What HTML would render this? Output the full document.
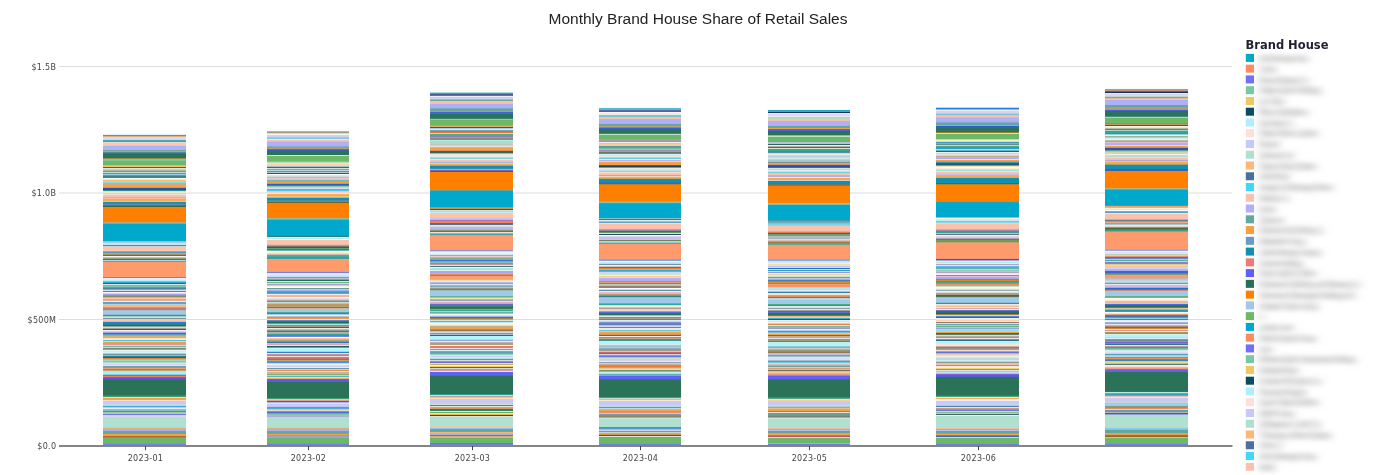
<!DOCTYPE html>
<html><head><meta charset="utf-8"><title>Monthly Brand House Share of Retail Sales</title>
<style>
html,body{margin:0;padding:0;background:#fff;}
body{width:1382px;height:475px;overflow:hidden;position:relative;}
svg{position:absolute;left:0;top:0;}
.ax{font-family:"DejaVu Sans",Verdana,sans-serif;font-size:8px;fill:#444;letter-spacing:0.3px;}
.title{font-family:"Liberation Sans",Arial,sans-serif;font-size:15.5px;fill:#222;}
.lt{font-family:"DejaVu Sans",Verdana,sans-serif;font-size:11.5px;font-weight:bold;fill:#222233;}
.lg{font-family:"DejaVu Sans",Verdana,sans-serif;font-size:10.5px;fill:#848484;}
</style></head><body>
<svg width="1382" height="475" viewBox="0 0 1382 475"><defs><filter id="bl" x="-10%" y="-10%" width="120%" height="120%"><feGaussianBlur stdDeviation="4.2 2.6"/></filter></defs>
<rect x="59" y="66.00" width="1173" height="1" fill="#dedede"/>
<rect x="59" y="192.50" width="1173" height="1" fill="#dedede"/>
<rect x="59" y="319.00" width="1173" height="1" fill="#dedede"/>
<g><rect x="103" y="134.85" width="83" height="310.75" fill="#2a9fc0"/><rect x="103" y="135.86" width="83" height="309.74" fill="#e8a050"/><rect x="103" y="136.62" width="83" height="308.98" fill="#d0d0f0"/><rect x="103" y="137.63" width="83" height="307.97" fill="#dcdcec"/><rect x="103" y="139.90" width="83" height="305.70" fill="#60a8a0"/><rect x="103" y="140.66" width="83" height="304.94" fill="#30a8d0"/><rect x="103" y="142.17" width="83" height="303.43" fill="#f0f0f0"/><rect x="103" y="142.68" width="83" height="302.92" fill="#fdc8b0"/><rect x="103" y="145.83" width="83" height="299.77" fill="#b0b0fa"/><rect x="103" y="150.00" width="83" height="295.60" fill="#60a8a0"/><rect x="103" y="150.88" width="83" height="294.72" fill="#f0a040"/><rect x="103" y="151.77" width="83" height="293.83" fill="#60b060"/><rect x="103" y="152.53" width="83" height="293.07" fill="#4060e0"/><rect x="103" y="154.04" width="83" height="291.56" fill="#2a7358"/><rect x="103" y="158.46" width="83" height="287.14" fill="#f0a040"/><rect x="103" y="159.72" width="83" height="285.88" fill="#80d0b0"/><rect x="103" y="160.73" width="83" height="284.87" fill="#6cb866"/><rect x="103" y="165.15" width="83" height="280.45" fill="#80d0b0"/><rect x="103" y="165.66" width="83" height="279.94" fill="#fcc070"/><rect x="103" y="167.05" width="83" height="278.55" fill="#1a5a6a"/><rect x="103" y="167.93" width="83" height="277.67" fill="#f0f0f0"/><rect x="103" y="168.56" width="83" height="277.04" fill="#c0d8c0"/><rect x="103" y="170.71" width="83" height="274.89" fill="#707040"/><rect x="103" y="171.72" width="83" height="273.88" fill="#e8f0f0"/><rect x="103" y="172.73" width="83" height="272.87" fill="#50b060"/><rect x="103" y="173.99" width="83" height="271.61" fill="#a0d0f0"/><rect x="103" y="174.87" width="83" height="270.73" fill="#60a0a0"/><rect x="103" y="176.52" width="83" height="269.08" fill="#1a6060"/><rect x="103" y="177.78" width="83" height="267.82" fill="#f8f8ff"/><rect x="103" y="179.04" width="83" height="266.56" fill="#f8e0f0"/><rect x="103" y="179.92" width="83" height="265.68" fill="#fcc070"/><rect x="103" y="181.82" width="83" height="263.78" fill="#80e0f0"/><rect x="103" y="183.00" width="83" height="262.60" fill="#c0b090"/><rect x="103" y="184.52" width="83" height="261.08" fill="#fca040"/><rect x="103" y="187.80" width="83" height="257.80" fill="#4050d0"/><rect x="103" y="188.68" width="83" height="256.92" fill="#1a5a6a"/><rect x="103" y="189.94" width="83" height="255.66" fill="#2a9090"/><rect x="103" y="191.21" width="83" height="254.39" fill="#f8f8f0"/><rect x="103" y="192.09" width="83" height="253.51" fill="#fcecc0"/><rect x="103" y="192.85" width="83" height="252.75" fill="#a0e8f0"/><rect x="103" y="194.11" width="83" height="251.49" fill="#fde0d0"/><rect x="103" y="194.99" width="83" height="250.61" fill="#fdc0b0"/><rect x="103" y="196.89" width="83" height="248.71" fill="#a0c0f0"/><rect x="103" y="197.90" width="83" height="247.70" fill="#fdc0b0"/><rect x="103" y="198.78" width="83" height="246.82" fill="#fca848"/><rect x="103" y="200.93" width="83" height="244.67" fill="#f0f0f0"/><rect x="103" y="201.69" width="83" height="243.91" fill="#1890b0"/><rect x="103" y="203.83" width="83" height="241.77" fill="#60a0a0"/><rect x="103" y="204.72" width="83" height="240.88" fill="#7050e0"/><rect x="103" y="205.98" width="83" height="239.62" fill="#2a7050"/><rect x="103" y="206.99" width="83" height="238.61" fill="#ff8000"/><rect x="103" y="222.14" width="83" height="223.46" fill="#b0b090"/><rect x="103" y="223.66" width="83" height="221.94" fill="#00a8cc"/><rect x="103" y="241.00" width="83" height="204.60" fill="#e8b040"/><rect x="103" y="242.01" width="83" height="203.59" fill="#a0c8f0"/><rect x="103" y="242.89" width="83" height="202.71" fill="#b0f0f0"/><rect x="103" y="244.16" width="83" height="201.44" fill="#ffffff"/><rect x="103" y="244.79" width="83" height="200.81" fill="#3090d0"/><rect x="103" y="246.05" width="83" height="199.55" fill="#d8d8d8"/><rect x="103" y="247.06" width="83" height="198.54" fill="#fdc4a8"/><rect x="103" y="250.85" width="83" height="194.75" fill="#ffffff"/><rect x="103" y="251.35" width="83" height="194.25" fill="#2090c8"/><rect x="103" y="252.62" width="83" height="192.98" fill="#a0a0a0"/><rect x="103" y="253.37" width="83" height="192.23" fill="#f0a050"/><rect x="103" y="254.64" width="83" height="190.96" fill="#2a6a70"/><rect x="103" y="255.90" width="83" height="189.70" fill="#ffffff"/><rect x="103" y="256.78" width="83" height="188.82" fill="#80e0e0"/><rect x="103" y="258.05" width="83" height="187.55" fill="#c0b090"/><rect x="103" y="258.68" width="83" height="186.92" fill="#706020"/><rect x="103" y="259.94" width="83" height="185.66" fill="#ffffff"/><rect x="103" y="260.57" width="83" height="185.03" fill="#20b0d0"/><rect x="103" y="261.83" width="83" height="183.77" fill="#fe9a6c"/><rect x="103" y="276.98" width="83" height="168.62" fill="#6070ff"/><rect x="103" y="277.87" width="83" height="167.73" fill="#e8eef8"/><rect x="103" y="280.14" width="83" height="165.46" fill="#b0f0f8"/><rect x="103" y="281.40" width="83" height="164.20" fill="#30c0e0"/><rect x="103" y="282.67" width="83" height="162.93" fill="#2060c0"/><rect x="103" y="284.18" width="83" height="161.42" fill="#ffffff"/><rect x="103" y="285.19" width="83" height="160.41" fill="#60b060"/><rect x="103" y="286.20" width="83" height="159.40" fill="#80d0b0"/><rect x="103" y="287.09" width="83" height="158.51" fill="#7080f0"/><rect x="103" y="288.35" width="83" height="157.25" fill="#408080"/><rect x="103" y="289.61" width="83" height="155.99" fill="#e8f0f8"/><rect x="103" y="290.87" width="83" height="154.73" fill="#407890"/><rect x="103" y="291.88" width="83" height="153.72" fill="#ffffff"/><rect x="103" y="292.77" width="83" height="152.83" fill="#f0c8e0"/><rect x="103" y="294.03" width="83" height="151.57" fill="#a0a0f0"/><rect x="103" y="295.29" width="83" height="150.31" fill="#d08030"/><rect x="103" y="296.56" width="83" height="149.04" fill="#30a0a0"/><rect x="103" y="297.57" width="83" height="148.03" fill="#ffffff"/><rect x="103" y="298.45" width="83" height="147.15" fill="#fe9a6c"/><rect x="103" y="300.77" width="83" height="144.83" fill="#b0f0f8"/><rect x="103" y="301.53" width="83" height="144.07" fill="#ffffff"/><rect x="103" y="302.16" width="83" height="143.44" fill="#4090d0"/><rect x="103" y="303.80" width="83" height="141.80" fill="#e0e8f0"/><rect x="103" y="304.68" width="83" height="140.92" fill="#70a0a0"/><rect x="103" y="305.57" width="83" height="140.03" fill="#ffffff"/><rect x="103" y="306.32" width="83" height="139.28" fill="#f8a040"/><rect x="103" y="307.59" width="83" height="138.01" fill="#c08080"/><rect x="103" y="308.85" width="83" height="136.75" fill="#f07030"/><rect x="103" y="310.11" width="83" height="135.49" fill="#a0c8e8"/><rect x="103" y="314.78" width="83" height="130.82" fill="#30a080"/><rect x="103" y="316.42" width="83" height="129.18" fill="#f0f0f0"/><rect x="103" y="317.31" width="83" height="128.29" fill="#fdc8a8"/><rect x="103" y="318.19" width="83" height="127.41" fill="#6080a0"/><rect x="103" y="319.20" width="83" height="126.40" fill="#fde0c8"/><rect x="103" y="320.46" width="83" height="125.14" fill="#fcb080"/><rect x="103" y="321.98" width="83" height="123.62" fill="#2080e0"/><rect x="103" y="323.62" width="83" height="121.98" fill="#2a8090"/><rect x="103" y="324.88" width="83" height="120.72" fill="#2a7050"/><rect x="103" y="326.53" width="83" height="119.07" fill="#f0f0f0"/><rect x="103" y="327.41" width="83" height="118.19" fill="#e0c0a0"/><rect x="103" y="328.67" width="83" height="116.93" fill="#1a5a70"/><rect x="103" y="329.93" width="83" height="115.67" fill="#ffffff"/><rect x="103" y="330.57" width="83" height="115.03" fill="#fdd0d0"/><rect x="103" y="331.83" width="83" height="113.77" fill="#a0a0f8"/><rect x="103" y="333.09" width="83" height="112.51" fill="#4060e0"/><rect x="103" y="334.35" width="83" height="111.25" fill="#60c0a0"/><rect x="103" y="335.62" width="83" height="109.98" fill="#c0b090"/><rect x="103" y="336.50" width="83" height="109.10" fill="#e8b050"/><rect x="103" y="338.14" width="83" height="107.46" fill="#fde0c8"/><rect x="103" y="339.15" width="83" height="106.45" fill="#f0f0f0"/><rect x="103" y="340.04" width="83" height="105.56" fill="#40c0e0"/><rect x="103" y="341.30" width="83" height="104.30" fill="#f0f0f0"/><rect x="103" y="341.93" width="83" height="103.67" fill="#f8a040"/><rect x="103" y="343.82" width="83" height="101.78" fill="#c08080"/><rect x="103" y="344.71" width="83" height="100.89" fill="#f0f0f0"/><rect x="103" y="345.72" width="83" height="99.88" fill="#60a0a0"/><rect x="103" y="346.73" width="83" height="98.87" fill="#fde0c8"/><rect x="103" y="347.61" width="83" height="97.99" fill="#c0b090"/><rect x="103" y="348.62" width="83" height="96.98" fill="#205050"/><rect x="103" y="349.51" width="83" height="96.09" fill="#f0ffff"/><rect x="103" y="350.77" width="83" height="94.83" fill="#c0f0f8"/><rect x="103" y="352.66" width="83" height="92.94" fill="#ffffff"/><rect x="103" y="353.55" width="83" height="92.05" fill="#6090a0"/><rect x="103" y="354.81" width="83" height="90.79" fill="#c0b090"/><rect x="103" y="356.07" width="83" height="89.53" fill="#1080a0"/><rect x="103" y="357.00" width="83" height="88.60" fill="#2a7050"/><rect x="103" y="358.01" width="83" height="87.59" fill="#f08030"/><rect x="103" y="359.53" width="83" height="86.07" fill="#b0e0d0"/><rect x="103" y="360.54" width="83" height="85.06" fill="#80d0b0"/><rect x="103" y="362.68" width="83" height="82.92" fill="#f0f0f0"/><rect x="103" y="363.57" width="83" height="82.03" fill="#d0d0f8"/><rect x="103" y="365.59" width="83" height="80.01" fill="#ffffff"/><rect x="103" y="366.09" width="83" height="79.51" fill="#6a98a8"/><rect x="103" y="367.73" width="83" height="77.87" fill="#f0a070"/><rect x="103" y="368.99" width="83" height="76.61" fill="#6090c0"/><rect x="103" y="370.26" width="83" height="75.34" fill="#e8b050"/><rect x="103" y="371.14" width="83" height="74.46" fill="#c0e8d8"/><rect x="103" y="372.15" width="83" height="73.45" fill="#a8f0f8"/><rect x="103" y="374.68" width="83" height="70.92" fill="#3090d0"/><rect x="103" y="375.94" width="83" height="69.66" fill="#f08050"/><rect x="103" y="377.20" width="83" height="68.40" fill="#6050f0"/><rect x="103" y="379.73" width="83" height="65.87" fill="#2a7358"/><rect x="103" y="395.51" width="83" height="50.09" fill="#40a070"/><rect x="103" y="397.15" width="83" height="48.45" fill="#f0f0f0"/><rect x="103" y="398.04" width="83" height="47.56" fill="#f8a040"/><rect x="103" y="399.93" width="83" height="45.67" fill="#fde0c8"/><rect x="103" y="400.94" width="83" height="44.66" fill="#c8c8fa"/><rect x="103" y="404.35" width="83" height="41.25" fill="#c0e8d8"/><rect x="103" y="405.00" width="83" height="40.60" fill="#b0e0d0"/><rect x="103" y="405.95" width="83" height="39.65" fill="#40a0e0"/><rect x="103" y="406.89" width="83" height="38.71" fill="#a0d8f8"/><rect x="103" y="408.31" width="83" height="37.29" fill="#ffffff"/><rect x="103" y="408.98" width="83" height="36.62" fill="#f8a040"/><rect x="103" y="409.92" width="83" height="35.68" fill="#f0f0f0"/><rect x="103" y="410.49" width="83" height="35.11" fill="#208898"/><rect x="103" y="411.82" width="83" height="33.78" fill="#c0e8d8"/><rect x="103" y="412.58" width="83" height="33.02" fill="#60b060"/><rect x="103" y="413.52" width="83" height="32.08" fill="#f0f0f0"/><rect x="103" y="414.00" width="83" height="31.60" fill="#7070f0"/><rect x="103" y="414.94" width="83" height="30.66" fill="#fcd090"/><rect x="103" y="416.17" width="83" height="29.43" fill="#d8d8f8"/><rect x="103" y="417.31" width="83" height="28.29" fill="#b0e0d0"/><rect x="103" y="427.92" width="83" height="17.68" fill="#f8a040"/><rect x="103" y="428.67" width="83" height="16.93" fill="#a0d8f8"/><rect x="103" y="429.43" width="83" height="16.17" fill="#40c8f0"/><rect x="103" y="430.09" width="83" height="15.51" fill="#b0b0f0"/><rect x="103" y="431.04" width="83" height="14.56" fill="#60a8a0"/><rect x="103" y="433.88" width="83" height="11.72" fill="#f8a040"/><rect x="103" y="436.25" width="83" height="9.35" fill="#a05030"/><rect x="103" y="437.01" width="83" height="8.59" fill="#60a0b0"/><rect x="103" y="437.95" width="83" height="7.65" fill="#6cb866"/><rect x="103" y="443.83" width="83" height="1.77" fill="#7080f0"/><rect x="103" y="444.96" width="83" height="0.64" fill="#306a60"/></g>
<g><rect x="267" y="131.06" width="82" height="314.54" fill="#60d0f0"/><rect x="267" y="131.94" width="82" height="313.66" fill="#a0a080"/><rect x="267" y="133.21" width="82" height="312.39" fill="#f8e0e8"/><rect x="267" y="134.09" width="82" height="311.51" fill="#f4f4f8"/><rect x="267" y="135.10" width="82" height="310.50" fill="#d0d0f0"/><rect x="267" y="136.99" width="82" height="308.61" fill="#b0f0f8"/><rect x="267" y="137.63" width="82" height="307.97" fill="#30b0d8"/><rect x="267" y="138.64" width="82" height="306.96" fill="#ffffff"/><rect x="267" y="139.52" width="82" height="306.08" fill="#fdc0a8"/><rect x="267" y="141.67" width="82" height="303.93" fill="#b0b0fa"/><rect x="267" y="146.46" width="82" height="299.14" fill="#60a8a0"/><rect x="267" y="147.73" width="82" height="297.87" fill="#f0a040"/><rect x="267" y="148.74" width="82" height="296.86" fill="#4080e0"/><rect x="267" y="149.62" width="82" height="295.98" fill="#3060d0"/><rect x="267" y="150.88" width="82" height="294.72" fill="#2a7358"/><rect x="267" y="155.05" width="82" height="290.55" fill="#e0f0f0"/><rect x="267" y="155.93" width="82" height="289.67" fill="#6cb866"/><rect x="267" y="160.98" width="82" height="284.62" fill="#f0a040"/><rect x="267" y="161.87" width="82" height="283.73" fill="#80d0b0"/><rect x="267" y="162.63" width="82" height="282.97" fill="#fcf0d8"/><rect x="267" y="163.51" width="82" height="282.09" fill="#fdd0a8"/><rect x="267" y="166.04" width="82" height="279.56" fill="#f0f0f0"/><rect x="267" y="166.67" width="82" height="278.93" fill="#2a6070"/><rect x="267" y="167.93" width="82" height="277.67" fill="#f0f0f0"/><rect x="267" y="168.81" width="82" height="276.79" fill="#40b070"/><rect x="267" y="169.82" width="82" height="275.78" fill="#e8f0f0"/><rect x="267" y="170.71" width="82" height="274.89" fill="#4090f0"/><rect x="267" y="171.97" width="82" height="273.63" fill="#f0f0f0"/><rect x="267" y="172.73" width="82" height="272.87" fill="#206060"/><rect x="267" y="173.99" width="82" height="271.61" fill="#ffffff"/><rect x="267" y="174.87" width="82" height="270.73" fill="#d0e8f8"/><rect x="267" y="176.77" width="82" height="268.83" fill="#c0b090"/><rect x="267" y="177.78" width="82" height="267.82" fill="#fde0c8"/><rect x="267" y="178.66" width="82" height="266.94" fill="#c0a0c0"/><rect x="267" y="179.55" width="82" height="266.05" fill="#f0f0f0"/><rect x="267" y="180.30" width="82" height="265.30" fill="#40a0a0"/><rect x="267" y="181.19" width="82" height="264.41" fill="#f8a040"/><rect x="267" y="183.00" width="82" height="262.60" fill="#b0a060"/><rect x="267" y="184.01" width="82" height="261.59" fill="#2060d0"/><rect x="267" y="185.78" width="82" height="259.82" fill="#b0e0d0"/><rect x="267" y="186.54" width="82" height="259.06" fill="#60b060"/><rect x="267" y="187.42" width="82" height="258.18" fill="#ffffff"/><rect x="267" y="188.30" width="82" height="257.30" fill="#c8c8f8"/><rect x="267" y="189.31" width="82" height="256.29" fill="#7080f0"/><rect x="267" y="190.07" width="82" height="255.53" fill="#40c8e0"/><rect x="267" y="190.83" width="82" height="254.77" fill="#a0d0f8"/><rect x="267" y="191.59" width="82" height="254.01" fill="#fdd0d0"/><rect x="267" y="193.10" width="82" height="252.50" fill="#f0f0f0"/><rect x="267" y="194.11" width="82" height="251.49" fill="#f8a848"/><rect x="267" y="196.64" width="82" height="248.96" fill="#f0f0f0"/><rect x="267" y="197.52" width="82" height="248.08" fill="#1090b0"/><rect x="267" y="200.68" width="82" height="244.92" fill="#d08080"/><rect x="267" y="201.69" width="82" height="243.91" fill="#606030"/><rect x="267" y="202.95" width="82" height="242.65" fill="#ff8000"/><rect x="267" y="218.10" width="82" height="227.50" fill="#90c0a0"/><rect x="267" y="219.62" width="82" height="225.98" fill="#00a8cc"/><rect x="267" y="235.78" width="82" height="209.82" fill="#308080"/><rect x="267" y="237.04" width="82" height="208.56" fill="#f0f0f0"/><rect x="267" y="237.92" width="82" height="207.68" fill="#b0f0f0"/><rect x="267" y="239.19" width="82" height="206.41" fill="#ffffff"/><rect x="267" y="240.07" width="82" height="205.53" fill="#fdc0a8"/><rect x="267" y="241.00" width="82" height="204.60" fill="#fdc4a8"/><rect x="267" y="244.79" width="82" height="200.81" fill="#90b0f0"/><rect x="267" y="245.80" width="82" height="199.80" fill="#a07070"/><rect x="267" y="246.81" width="82" height="198.79" fill="#2a6050"/><rect x="267" y="247.94" width="82" height="197.66" fill="#60b060"/><rect x="267" y="248.83" width="82" height="196.77" fill="#208080"/><rect x="267" y="249.84" width="82" height="195.76" fill="#40b0c0"/><rect x="267" y="250.85" width="82" height="194.75" fill="#fcf8f0"/><rect x="267" y="252.11" width="82" height="193.49" fill="#fcf0c0"/><rect x="267" y="253.12" width="82" height="192.48" fill="#f0d0e0"/><rect x="267" y="254.64" width="82" height="190.96" fill="#a09060"/><rect x="267" y="255.52" width="82" height="190.08" fill="#40b0a0"/><rect x="267" y="256.78" width="82" height="188.82" fill="#30a0a0"/><rect x="267" y="258.93" width="82" height="186.67" fill="#fe9a6c"/><rect x="267" y="271.93" width="82" height="173.67" fill="#6070f0"/><rect x="267" y="272.82" width="82" height="172.78" fill="#b0e0d0"/><rect x="267" y="273.58" width="82" height="172.02" fill="#ffffff"/><rect x="267" y="274.46" width="82" height="171.14" fill="#e0d8fc"/><rect x="267" y="276.35" width="82" height="169.25" fill="#b0f0f8"/><rect x="267" y="277.36" width="82" height="168.24" fill="#4070c0"/><rect x="267" y="278.25" width="82" height="167.35" fill="#f0d8c8"/><rect x="267" y="279.51" width="82" height="166.09" fill="#1a7070"/><rect x="267" y="281.15" width="82" height="164.45" fill="#ffffff"/><rect x="267" y="282.04" width="82" height="163.56" fill="#60b060"/><rect x="267" y="282.92" width="82" height="162.68" fill="#f8d0d8"/><rect x="267" y="283.93" width="82" height="161.67" fill="#a0a0f0"/><rect x="267" y="284.94" width="82" height="160.66" fill="#e8c860"/><rect x="267" y="285.82" width="82" height="159.78" fill="#fcf0c0"/><rect x="267" y="286.71" width="82" height="158.89" fill="#ffffff"/><rect x="267" y="287.97" width="82" height="157.63" fill="#60a0a0"/><rect x="267" y="288.98" width="82" height="156.62" fill="#d0c0f0"/><rect x="267" y="290.24" width="82" height="155.36" fill="#a0a0f0"/><rect x="267" y="291.51" width="82" height="154.09" fill="#4a80b0"/><rect x="267" y="292.52" width="82" height="153.08" fill="#30b8e0"/><rect x="267" y="294.03" width="82" height="151.57" fill="#f0f0f0"/><rect x="267" y="295.29" width="82" height="150.31" fill="#f8a070"/><rect x="267" y="296.81" width="82" height="148.79" fill="#ffffff"/><rect x="267" y="297.82" width="82" height="147.78" fill="#e0e0f8"/><rect x="267" y="299.00" width="82" height="146.60" fill="#e0d0a0"/><rect x="267" y="300.01" width="82" height="145.59" fill="#c0b090"/><rect x="267" y="300.89" width="82" height="144.71" fill="#4080c0"/><rect x="267" y="301.78" width="82" height="143.82" fill="#c0e0e8"/><rect x="267" y="303.42" width="82" height="142.18" fill="#f0a050"/><rect x="267" y="304.68" width="82" height="140.92" fill="#6090a0"/><rect x="267" y="305.57" width="82" height="140.03" fill="#e0b070"/><rect x="267" y="306.83" width="82" height="138.77" fill="#206060"/><rect x="267" y="307.59" width="82" height="138.01" fill="#f8a040"/><rect x="267" y="308.47" width="82" height="137.13" fill="#a0c8e8"/><rect x="267" y="312.26" width="82" height="133.34" fill="#30a080"/><rect x="267" y="313.14" width="82" height="132.46" fill="#2080f0"/><rect x="267" y="314.40" width="82" height="131.20" fill="#ffffff"/><rect x="267" y="315.41" width="82" height="130.19" fill="#fde0e0"/><rect x="267" y="316.42" width="82" height="129.18" fill="#a0a0a0"/><rect x="267" y="318.19" width="82" height="127.41" fill="#f8a040"/><rect x="267" y="319.20" width="82" height="126.40" fill="#f0f0f0"/><rect x="267" y="320.21" width="82" height="125.39" fill="#3070d0"/><rect x="267" y="321.73" width="82" height="123.87" fill="#2a7050"/><rect x="267" y="323.62" width="82" height="121.98" fill="#b0f0f8"/><rect x="267" y="324.88" width="82" height="120.72" fill="#30a0d0"/><rect x="267" y="325.77" width="82" height="119.83" fill="#c0b090"/><rect x="267" y="326.78" width="82" height="118.82" fill="#506040"/><rect x="267" y="328.04" width="82" height="117.56" fill="#f0f0f0"/><rect x="267" y="329.05" width="82" height="116.55" fill="#f0b070"/><rect x="267" y="330.31" width="82" height="115.29" fill="#6090a0"/><rect x="267" y="331.20" width="82" height="114.40" fill="#806050"/><rect x="267" y="332.46" width="82" height="113.14" fill="#f0f0f0"/><rect x="267" y="333.34" width="82" height="112.26" fill="#40b090"/><rect x="267" y="334.35" width="82" height="111.25" fill="#20a0b0"/><rect x="267" y="335.87" width="82" height="109.73" fill="#6070f0"/><rect x="267" y="336.88" width="82" height="108.72" fill="#ffffff"/><rect x="267" y="338.14" width="82" height="107.46" fill="#fcc080"/><rect x="267" y="339.66" width="82" height="105.94" fill="#80a8a0"/><rect x="267" y="340.67" width="82" height="104.93" fill="#f0a030"/><rect x="267" y="341.68" width="82" height="103.92" fill="#3050c0"/><rect x="267" y="342.56" width="82" height="103.04" fill="#40a0a0"/><rect x="267" y="343.44" width="82" height="102.16" fill="#f0f0f0"/><rect x="267" y="344.20" width="82" height="101.40" fill="#e090a0"/><rect x="267" y="345.09" width="82" height="100.51" fill="#f0f0f0"/><rect x="267" y="345.97" width="82" height="99.63" fill="#1a6060"/><rect x="267" y="347.61" width="82" height="97.99" fill="#ffffff"/><rect x="267" y="348.24" width="82" height="97.36" fill="#b0f4fc"/><rect x="267" y="351.78" width="82" height="93.82" fill="#3080d0"/><rect x="267" y="353.04" width="82" height="92.56" fill="#f0f0f0"/><rect x="267" y="353.92" width="82" height="91.68" fill="#d09090"/><rect x="267" y="355.19" width="82" height="90.41" fill="#40b0b0"/><rect x="267" y="356.07" width="82" height="89.53" fill="#ffffff"/><rect x="267" y="356.83" width="82" height="88.77" fill="#d07070"/><rect x="267" y="357.00" width="82" height="88.60" fill="#d07878"/><rect x="267" y="358.89" width="82" height="86.71" fill="#807020"/><rect x="267" y="359.78" width="82" height="85.82" fill="#f0a040"/><rect x="267" y="360.79" width="82" height="84.81" fill="#40a0e0"/><rect x="267" y="361.80" width="82" height="83.80" fill="#4090f0"/><rect x="267" y="363.06" width="82" height="82.54" fill="#c0e8d8"/><rect x="267" y="363.94" width="82" height="81.66" fill="#f4f4f4"/><rect x="267" y="365.21" width="82" height="80.39" fill="#d0d0f8"/><rect x="267" y="367.10" width="82" height="78.50" fill="#f0f0f0"/><rect x="267" y="368.11" width="82" height="77.49" fill="#5090a0"/><rect x="267" y="368.99" width="82" height="76.61" fill="#f0f0f0"/><rect x="267" y="369.63" width="82" height="75.97" fill="#f08040"/><rect x="267" y="370.89" width="82" height="74.71" fill="#fde0e0"/><rect x="267" y="371.90" width="82" height="73.70" fill="#c0b090"/><rect x="267" y="372.78" width="82" height="72.82" fill="#c0e8d8"/><rect x="267" y="373.67" width="82" height="71.93" fill="#708040"/><rect x="267" y="374.68" width="82" height="70.92" fill="#f0f0f0"/><rect x="267" y="375.69" width="82" height="69.91" fill="#30a0a0"/><rect x="267" y="376.57" width="82" height="69.03" fill="#80e0d0"/><rect x="267" y="377.45" width="82" height="68.15" fill="#f0f0f0"/><rect x="267" y="378.21" width="82" height="67.39" fill="#f0a040"/><rect x="267" y="379.10" width="82" height="66.50" fill="#5858f8"/><rect x="267" y="382.00" width="82" height="63.60" fill="#2a7358"/><rect x="267" y="398.04" width="82" height="47.56" fill="#40a070"/><rect x="267" y="399.30" width="82" height="46.30" fill="#f0f0f0"/><rect x="267" y="400.18" width="82" height="45.42" fill="#f09070"/><rect x="267" y="400.94" width="82" height="44.66" fill="#4060d0"/><rect x="267" y="402.45" width="82" height="43.15" fill="#ffffff"/><rect x="267" y="403.46" width="82" height="42.14" fill="#c8c8fa"/><rect x="267" y="406.89" width="82" height="38.71" fill="#40a8c8"/><rect x="267" y="408.79" width="82" height="36.81" fill="#a0c8f8"/><rect x="267" y="409.92" width="82" height="35.68" fill="#f0f0f0"/><rect x="267" y="410.68" width="82" height="34.92" fill="#f8a040"/><rect x="267" y="411.63" width="82" height="33.97" fill="#4060e0"/><rect x="267" y="412.58" width="82" height="33.02" fill="#5080f0"/><rect x="267" y="413.71" width="82" height="31.89" fill="#b0e0d0"/><rect x="267" y="414.47" width="82" height="31.13" fill="#60b060"/><rect x="267" y="415.61" width="82" height="29.99" fill="#f0f0f0"/><rect x="267" y="416.36" width="82" height="29.24" fill="#9080e0"/><rect x="267" y="417.12" width="82" height="28.48" fill="#fcd0a0"/><rect x="267" y="417.78" width="82" height="27.82" fill="#b0e0d0"/><rect x="267" y="427.92" width="82" height="17.68" fill="#f8a040"/><rect x="267" y="428.67" width="82" height="16.93" fill="#a0d0f8"/><rect x="267" y="429.43" width="82" height="16.17" fill="#40c8f0"/><rect x="267" y="430.09" width="82" height="15.51" fill="#b0b0f0"/><rect x="267" y="431.04" width="82" height="14.56" fill="#60a8a0"/><rect x="267" y="433.88" width="82" height="11.72" fill="#f8a040"/><rect x="267" y="435.49" width="82" height="10.11" fill="#8080f0"/><rect x="267" y="436.72" width="82" height="8.88" fill="#d0e8d0"/><rect x="267" y="437.20" width="82" height="8.40" fill="#6cb866"/><rect x="267" y="443.83" width="82" height="1.77" fill="#7080f0"/><rect x="267" y="444.96" width="82" height="0.64" fill="#306a60"/></g>
<g><rect x="430" y="92.58" width="83" height="353.02" fill="#40b0b0"/><rect x="430" y="93.59" width="83" height="352.01" fill="#8070d0"/><rect x="430" y="94.47" width="83" height="351.13" fill="#1a4a60"/><rect x="430" y="95.73" width="83" height="349.87" fill="#ffffff"/><rect x="430" y="96.62" width="83" height="348.98" fill="#c8d0f8"/><rect x="430" y="98.89" width="83" height="346.71" fill="#e0c060"/><rect x="430" y="99.90" width="83" height="345.70" fill="#40a0a0"/><rect x="430" y="100.78" width="83" height="344.82" fill="#fdc0a0"/><rect x="430" y="103.94" width="83" height="341.66" fill="#b0b0fa"/><rect x="430" y="108.36" width="83" height="337.24" fill="#60a8a0"/><rect x="430" y="110.88" width="83" height="334.72" fill="#f0a040"/><rect x="430" y="111.77" width="83" height="333.83" fill="#4060e0"/><rect x="430" y="112.78" width="83" height="332.82" fill="#4070e8"/><rect x="430" y="113.79" width="83" height="331.81" fill="#2a7358"/><rect x="430" y="118.84" width="83" height="326.76" fill="#a0d0f0"/><rect x="430" y="119.72" width="83" height="325.88" fill="#6cb866"/><rect x="430" y="125.66" width="83" height="319.94" fill="#f8b060"/><rect x="430" y="126.92" width="83" height="318.68" fill="#1a5a6a"/><rect x="430" y="127.93" width="83" height="317.67" fill="#a0d0f0"/><rect x="430" y="129.19" width="83" height="316.41" fill="#f0f0f0"/><rect x="430" y="130.20" width="83" height="315.40" fill="#6090a0"/><rect x="430" y="131.46" width="83" height="314.14" fill="#f07030"/><rect x="430" y="132.98" width="83" height="312.62" fill="#c0e8d8"/><rect x="430" y="133.99" width="83" height="311.61" fill="#40b080"/><rect x="430" y="136.14" width="83" height="309.46" fill="#a070d0"/><rect x="430" y="137.40" width="83" height="308.20" fill="#c0b070"/><rect x="430" y="138.66" width="83" height="306.94" fill="#1a5a6a"/><rect x="430" y="139.55" width="83" height="306.05" fill="#b0f0f8"/><rect x="430" y="140.81" width="83" height="304.79" fill="#a0e0d0"/><rect x="430" y="142.83" width="83" height="302.77" fill="#f8c090"/><rect x="430" y="144.52" width="83" height="301.08" fill="#90d8e8"/><rect x="430" y="145.78" width="83" height="299.82" fill="#f0f0f0"/><rect x="430" y="146.79" width="83" height="298.81" fill="#c0b0f0"/><rect x="430" y="147.80" width="83" height="297.80" fill="#f8a040"/><rect x="430" y="150.83" width="83" height="294.77" fill="#4050d0"/><rect x="430" y="151.84" width="83" height="293.76" fill="#1a5a6a"/><rect x="430" y="152.85" width="83" height="292.75" fill="#f8a040"/><rect x="430" y="154.11" width="83" height="291.49" fill="#f0f0f0"/><rect x="430" y="154.99" width="83" height="290.61" fill="#e0f0e8"/><rect x="430" y="156.64" width="83" height="288.96" fill="#f0f0f0"/><rect x="430" y="157.52" width="83" height="288.08" fill="#60d0e0"/><rect x="430" y="158.78" width="83" height="286.82" fill="#fde0c8"/><rect x="430" y="160.05" width="83" height="285.55" fill="#fdc0a8"/><rect x="430" y="161.94" width="83" height="283.66" fill="#a0b0f0"/><rect x="430" y="162.95" width="83" height="282.65" fill="#fcd0a0"/><rect x="430" y="163.83" width="83" height="281.77" fill="#f8a850"/><rect x="430" y="165.73" width="83" height="279.87" fill="#1090b0"/><rect x="430" y="168.88" width="83" height="276.72" fill="#d0b0c0"/><rect x="430" y="169.77" width="83" height="275.83" fill="#a060d0"/><rect x="430" y="170.78" width="83" height="274.82" fill="#1a5a6a"/><rect x="430" y="171.79" width="83" height="273.81" fill="#ff8000"/><rect x="430" y="189.97" width="83" height="255.63" fill="#60a8a0"/><rect x="430" y="190.98" width="83" height="254.62" fill="#00a8cc"/><rect x="430" y="207.57" width="83" height="238.03" fill="#fcc060"/><rect x="430" y="208.32" width="83" height="237.28" fill="#f0a040"/><rect x="430" y="208.83" width="83" height="236.77" fill="#203040"/><rect x="430" y="209.84" width="83" height="235.76" fill="#f0f0f0"/><rect x="430" y="210.47" width="83" height="235.13" fill="#a0e0e8"/><rect x="430" y="212.62" width="83" height="232.98" fill="#ffffff"/><rect x="430" y="212.99" width="83" height="232.61" fill="#fdc4a8"/><rect x="430" y="218.05" width="83" height="227.55" fill="#c0c0f0"/><rect x="430" y="219.31" width="83" height="226.29" fill="#fcb090"/><rect x="430" y="220.19" width="83" height="225.41" fill="#a060c0"/><rect x="430" y="221.45" width="83" height="224.15" fill="#f0a0a0"/><rect x="430" y="222.21" width="83" height="223.39" fill="#f08030"/><rect x="430" y="223.47" width="83" height="222.13" fill="#204080"/><rect x="430" y="224.74" width="83" height="220.86" fill="#f0f0f0"/><rect x="430" y="225.62" width="83" height="219.98" fill="#d0e0d0"/><rect x="430" y="227.26" width="83" height="218.34" fill="#b8b0fa"/><rect x="430" y="229.79" width="83" height="215.81" fill="#d0a060"/><rect x="430" y="230.67" width="83" height="214.93" fill="#208080"/><rect x="430" y="231.93" width="83" height="213.67" fill="#f0f0f0"/><rect x="430" y="232.82" width="83" height="212.78" fill="#f0a040"/><rect x="430" y="234.08" width="83" height="211.52" fill="#30a0b0"/><rect x="430" y="235.09" width="83" height="210.51" fill="#fe9a6c"/><rect x="430" y="250.24" width="83" height="195.36" fill="#7090f0"/><rect x="430" y="251.25" width="83" height="194.35" fill="#f0f0f0"/><rect x="430" y="252.14" width="83" height="193.46" fill="#e0f8f8"/><rect x="430" y="253.78" width="83" height="191.82" fill="#ffffff"/><rect x="430" y="254.66" width="83" height="190.94" fill="#80b0c8"/><rect x="430" y="255.92" width="83" height="189.68" fill="#f0f0f0"/><rect x="430" y="256.56" width="83" height="189.04" fill="#e0a0c0"/><rect x="430" y="257.57" width="83" height="188.03" fill="#c0b090"/><rect x="430" y="258.45" width="83" height="187.15" fill="#60b060"/><rect x="430" y="259.00" width="83" height="186.60" fill="#b0a060"/><rect x="430" y="260.01" width="83" height="185.59" fill="#4070f0"/><rect x="430" y="261.53" width="83" height="184.07" fill="#b0e0d0"/><rect x="430" y="262.54" width="83" height="183.06" fill="#40b090"/><rect x="430" y="263.80" width="83" height="181.80" fill="#d090a0"/><rect x="430" y="265.06" width="83" height="180.54" fill="#f0f0f0"/><rect x="430" y="265.94" width="83" height="179.66" fill="#206060"/><rect x="430" y="266.83" width="83" height="178.77" fill="#ffffff"/><rect x="430" y="267.84" width="83" height="177.76" fill="#a0e8e0"/><rect x="430" y="270.11" width="83" height="175.49" fill="#f0f0f0"/><rect x="430" y="270.99" width="83" height="174.61" fill="#a8a8fa"/><rect x="430" y="273.52" width="83" height="172.08" fill="#f0a0a0"/><rect x="430" y="274.40" width="83" height="171.20" fill="#f08030"/><rect x="430" y="275.16" width="83" height="170.44" fill="#40a080"/><rect x="430" y="276.05" width="83" height="169.55" fill="#fca070"/><rect x="430" y="279.83" width="83" height="165.77" fill="#fcd0a0"/><rect x="430" y="280.72" width="83" height="164.88" fill="#f0f0f0"/><rect x="430" y="281.73" width="83" height="163.87" fill="#d8d0f8"/><rect x="430" y="282.74" width="83" height="162.86" fill="#3090c0"/><rect x="430" y="283.62" width="83" height="161.98" fill="#f0f0f0"/><rect x="430" y="284.51" width="83" height="161.09" fill="#d8d8d8"/><rect x="430" y="285.52" width="83" height="160.08" fill="#6090b0"/><rect x="430" y="286.53" width="83" height="159.07" fill="#a0d0f0"/><rect x="430" y="287.79" width="83" height="157.81" fill="#d0a060"/><rect x="430" y="288.67" width="83" height="156.93" fill="#2090b0"/><rect x="430" y="289.56" width="83" height="156.04" fill="#a09060"/><rect x="430" y="290.31" width="83" height="155.29" fill="#a0c8e8"/><rect x="430" y="296.25" width="83" height="149.35" fill="#40b080"/><rect x="430" y="297.51" width="83" height="148.09" fill="#f0f0f0"/><rect x="430" y="298.14" width="83" height="147.46" fill="#fcd890"/><rect x="430" y="299.66" width="83" height="145.94" fill="#6080a0"/><rect x="430" y="300.67" width="83" height="144.93" fill="#f0f0f0"/><rect x="430" y="301.68" width="83" height="143.92" fill="#e0b0c0"/><rect x="430" y="303.44" width="83" height="142.16" fill="#f0a040"/><rect x="430" y="304.20" width="83" height="141.40" fill="#4060f0"/><rect x="430" y="305.46" width="83" height="140.14" fill="#40a090"/><rect x="430" y="306.35" width="83" height="139.25" fill="#2a7358"/><rect x="430" y="308.87" width="83" height="136.73" fill="#d09030"/><rect x="430" y="310.14" width="83" height="135.46" fill="#20b0a0"/><rect x="430" y="311.40" width="83" height="134.20" fill="#f0f0f0"/><rect x="430" y="312.28" width="83" height="133.32" fill="#30a090"/><rect x="430" y="313.55" width="83" height="132.05" fill="#ffffff"/><rect x="430" y="314.56" width="83" height="131.04" fill="#fde0c8"/><rect x="430" y="315.82" width="83" height="129.78" fill="#a0d0f0"/><rect x="430" y="316.83" width="83" height="128.77" fill="#4070d0"/><rect x="430" y="317.00" width="83" height="128.60" fill="#2080a0"/><rect x="430" y="318.26" width="83" height="127.34" fill="#e08020"/><rect x="430" y="319.78" width="83" height="125.82" fill="#f0f0f0"/><rect x="430" y="320.79" width="83" height="124.81" fill="#80a8b0"/><rect x="430" y="322.05" width="83" height="123.55" fill="#b0f0f8"/><rect x="430" y="323.31" width="83" height="122.29" fill="#ffffff"/><rect x="430" y="324.32" width="83" height="121.28" fill="#fde0c8"/><rect x="430" y="325.84" width="83" height="119.76" fill="#c0b090"/><rect x="430" y="327.10" width="83" height="118.50" fill="#f8a040"/><rect x="430" y="329.63" width="83" height="115.97" fill="#606030"/><rect x="430" y="330.64" width="83" height="114.96" fill="#e0b090"/><rect x="430" y="331.90" width="83" height="113.70" fill="#f0f0f0"/><rect x="430" y="332.78" width="83" height="112.82" fill="#9080e0"/><rect x="430" y="334.05" width="83" height="111.55" fill="#f0f0f0"/><rect x="430" y="334.68" width="83" height="110.92" fill="#206070"/><rect x="430" y="335.94" width="83" height="109.66" fill="#b0f4fc"/><rect x="430" y="339.73" width="83" height="105.87" fill="#90a0e0"/><rect x="430" y="340.99" width="83" height="104.61" fill="#f0f0f0"/><rect x="430" y="342.00" width="83" height="103.60" fill="#c0b0a0"/><rect x="430" y="343.52" width="83" height="102.08" fill="#909060"/><rect x="430" y="344.78" width="83" height="100.82" fill="#f0f0f0"/><rect x="430" y="346.04" width="83" height="99.56" fill="#f07060"/><rect x="430" y="347.93" width="83" height="97.67" fill="#f0f0f0"/><rect x="430" y="348.82" width="83" height="96.78" fill="#50b0e0"/><rect x="430" y="350.08" width="83" height="95.52" fill="#f0f0f0"/><rect x="430" y="351.09" width="83" height="94.51" fill="#a080e0"/><rect x="430" y="352.35" width="83" height="93.25" fill="#40b0a0"/><rect x="430" y="353.62" width="83" height="91.98" fill="#80d0b0"/><rect x="430" y="354.88" width="83" height="90.72" fill="#f0f0f0"/><rect x="430" y="355.51" width="83" height="90.09" fill="#d0d0fa"/><rect x="430" y="357.66" width="83" height="87.94" fill="#ffffff"/><rect x="430" y="358.67" width="83" height="86.93" fill="#30a0c0"/><rect x="430" y="359.93" width="83" height="85.67" fill="#c0e8d8"/><rect x="430" y="360.94" width="83" height="84.66" fill="#f08040"/><rect x="430" y="362.20" width="83" height="83.40" fill="#6060f0"/><rect x="430" y="363.09" width="83" height="82.51" fill="#f0f0f0"/><rect x="430" y="363.97" width="83" height="81.63" fill="#c0b070"/><rect x="430" y="364.98" width="83" height="80.62" fill="#f0f0f0"/><rect x="430" y="365.99" width="83" height="79.61" fill="#f0d060"/><rect x="430" y="367.25" width="83" height="78.35" fill="#1a4a5a"/><rect x="430" y="368.14" width="83" height="77.46" fill="#f0f0f0"/><rect x="430" y="369.02" width="83" height="76.58" fill="#a0a0c0"/><rect x="430" y="370.03" width="83" height="75.57" fill="#d0a0a0"/><rect x="430" y="371.04" width="83" height="74.56" fill="#f0f0f0"/><rect x="430" y="371.92" width="83" height="73.68" fill="#6060f8"/><rect x="430" y="375.00" width="83" height="70.60" fill="#4a70a0"/><rect x="430" y="376.01" width="83" height="69.59" fill="#2a7358"/><rect x="430" y="393.94" width="83" height="51.66" fill="#20a090"/><rect x="430" y="395.20" width="83" height="50.40" fill="#f0f0f0"/><rect x="430" y="396.21" width="83" height="49.39" fill="#c08090"/><rect x="430" y="397.10" width="83" height="48.50" fill="#fcc0a0"/><rect x="430" y="397.98" width="83" height="47.62" fill="#fce0a0"/><rect x="430" y="398.99" width="83" height="46.61" fill="#c8c8fa"/><rect x="430" y="403.79" width="83" height="41.81" fill="#c0e8d8"/><rect x="430" y="405.05" width="83" height="40.55" fill="#4a70a0"/><rect x="430" y="405.93" width="83" height="39.67" fill="#f0f0f0"/><rect x="430" y="406.82" width="83" height="38.78" fill="#d0a070"/><rect x="430" y="407.83" width="83" height="37.77" fill="#f8a040"/><rect x="430" y="408.84" width="83" height="36.76" fill="#208080"/><rect x="430" y="410.98" width="83" height="34.62" fill="#f0f0f0"/><rect x="430" y="411.87" width="83" height="33.73" fill="#60b060"/><rect x="430" y="413.13" width="83" height="32.47" fill="#f0f0f0"/><rect x="430" y="413.89" width="83" height="31.71" fill="#f8b050"/><rect x="430" y="415.15" width="83" height="30.45" fill="#203060"/><rect x="430" y="416.04" width="83" height="29.56" fill="#f0f0f0"/><rect x="430" y="416.67" width="83" height="28.93" fill="#b0e0d0"/><rect x="430" y="426.15" width="83" height="19.45" fill="#f0c8a0"/><rect x="430" y="426.87" width="83" height="18.73" fill="#c0e8d8"/><rect x="430" y="427.60" width="83" height="18.00" fill="#90c0f8"/><rect x="430" y="429.04" width="83" height="16.56" fill="#60a8a0"/><rect x="430" y="431.94" width="83" height="13.66" fill="#fcd0a0"/><rect x="430" y="432.45" width="83" height="13.15" fill="#f8a040"/><rect x="430" y="433.89" width="83" height="11.71" fill="#f0f0f0"/><rect x="430" y="434.47" width="83" height="11.13" fill="#6080e0"/><rect x="430" y="435.20" width="83" height="10.40" fill="#9050b0"/><rect x="430" y="435.92" width="83" height="9.68" fill="#f0a070"/><rect x="430" y="436.79" width="83" height="8.81" fill="#a0d8b0"/><rect x="430" y="437.73" width="83" height="7.87" fill="#6cb866"/><rect x="430" y="443.01" width="83" height="2.59" fill="#10a0e0"/><rect x="430" y="443.88" width="83" height="1.72" fill="#7080f0"/><rect x="430" y="444.96" width="83" height="0.64" fill="#306a60"/></g>
<g><rect x="599" y="107.95" width="82" height="337.65" fill="#40c0e0"/><rect x="599" y="108.84" width="82" height="336.76" fill="#b0a090"/><rect x="599" y="109.85" width="82" height="335.75" fill="#8080d0"/><rect x="599" y="110.73" width="82" height="334.87" fill="#203050"/><rect x="599" y="111.74" width="82" height="333.86" fill="#ffffff"/><rect x="599" y="112.63" width="82" height="332.97" fill="#f0e0f8"/><rect x="599" y="113.89" width="82" height="331.71" fill="#f0f0f0"/><rect x="599" y="114.90" width="82" height="330.70" fill="#d0b070"/><rect x="599" y="115.78" width="82" height="329.82" fill="#70c8d0"/><rect x="599" y="117.05" width="82" height="328.55" fill="#fdc0a0"/><rect x="599" y="118.94" width="82" height="326.66" fill="#b0b0fa"/><rect x="599" y="123.99" width="82" height="321.61" fill="#60a8a0"/><rect x="599" y="125.88" width="82" height="319.72" fill="#c0a070"/><rect x="599" y="127.15" width="82" height="318.45" fill="#40a0a0"/><rect x="599" y="128.03" width="82" height="317.57" fill="#3060e0"/><rect x="599" y="129.29" width="82" height="316.31" fill="#2a7358"/><rect x="599" y="133.84" width="82" height="311.76" fill="#e0f0f0"/><rect x="599" y="134.72" width="82" height="310.88" fill="#6cb866"/><rect x="599" y="139.77" width="82" height="305.83" fill="#c0b0e0"/><rect x="599" y="140.66" width="82" height="304.94" fill="#807050"/><rect x="599" y="141.67" width="82" height="303.93" fill="#f0f0f0"/><rect x="599" y="142.93" width="82" height="302.67" fill="#fcc090"/><rect x="599" y="144.82" width="82" height="300.78" fill="#f0f0f0"/><rect x="599" y="145.71" width="82" height="299.89" fill="#6090a0"/><rect x="599" y="146.46" width="82" height="299.14" fill="#60a8a0"/><rect x="599" y="147.35" width="82" height="298.25" fill="#40b070"/><rect x="599" y="148.61" width="82" height="296.99" fill="#b0e0d0"/><rect x="599" y="149.49" width="82" height="296.11" fill="#c090a0"/><rect x="599" y="150.51" width="82" height="295.09" fill="#8080e0"/><rect x="599" y="151.52" width="82" height="294.08" fill="#d0b060"/><rect x="599" y="152.40" width="82" height="293.20" fill="#1a5a6a"/><rect x="599" y="153.66" width="82" height="291.94" fill="#f0f0f0"/><rect x="599" y="154.55" width="82" height="291.05" fill="#b0f0f8"/><rect x="599" y="155.81" width="82" height="289.79" fill="#f0f0f0"/><rect x="599" y="156.82" width="82" height="288.78" fill="#fcc090"/><rect x="599" y="158.00" width="82" height="287.60" fill="#60d0e0"/><rect x="599" y="159.01" width="82" height="286.59" fill="#f0f0f0"/><rect x="599" y="159.89" width="82" height="285.71" fill="#c0b0f0"/><rect x="599" y="161.16" width="82" height="284.44" fill="#fcd0b0"/><rect x="599" y="162.04" width="82" height="283.56" fill="#f8a040"/><rect x="599" y="164.94" width="82" height="280.66" fill="#4060d0"/><rect x="599" y="165.83" width="82" height="279.77" fill="#203050"/><rect x="599" y="166.84" width="82" height="278.76" fill="#30a0a0"/><rect x="599" y="167.85" width="82" height="277.75" fill="#f0f0f0"/><rect x="599" y="168.73" width="82" height="276.87" fill="#d0e0b0"/><rect x="599" y="169.62" width="82" height="275.98" fill="#f0f0f0"/><rect x="599" y="170.63" width="82" height="274.97" fill="#60d8e8"/><rect x="599" y="171.89" width="82" height="273.71" fill="#ffffff"/><rect x="599" y="172.52" width="82" height="273.08" fill="#fdc0a8"/><rect x="599" y="175.05" width="82" height="270.55" fill="#a0a0f0"/><rect x="599" y="175.93" width="82" height="269.67" fill="#f0f0f0"/><rect x="599" y="176.69" width="82" height="268.91" fill="#f8a848"/><rect x="599" y="178.83" width="82" height="266.77" fill="#1090b0"/><rect x="599" y="182.62" width="82" height="262.98" fill="#5050d0"/><rect x="599" y="183.88" width="82" height="261.72" fill="#808040"/><rect x="599" y="184.52" width="82" height="261.08" fill="#ff8000"/><rect x="599" y="201.56" width="82" height="244.04" fill="#90c0a0"/><rect x="599" y="203.20" width="82" height="242.40" fill="#00a8cc"/><rect x="599" y="218.27" width="82" height="227.33" fill="#f0f0f0"/><rect x="599" y="218.78" width="82" height="226.82" fill="#205060"/><rect x="599" y="219.79" width="82" height="225.81" fill="#f0f0f0"/><rect x="599" y="220.80" width="82" height="224.80" fill="#a0e0f0"/><rect x="599" y="221.68" width="82" height="223.92" fill="#50a0c0"/><rect x="599" y="222.94" width="82" height="222.66" fill="#f0f0f0"/><rect x="599" y="223.58" width="82" height="222.02" fill="#fdc0a8"/><rect x="599" y="229.26" width="82" height="216.34" fill="#9090f0"/><rect x="599" y="230.52" width="82" height="215.08" fill="#a07070"/><rect x="599" y="231.40" width="82" height="214.20" fill="#2a6050"/><rect x="599" y="232.16" width="82" height="213.44" fill="#60b060"/><rect x="599" y="233.05" width="82" height="212.55" fill="#f0f0f0"/><rect x="599" y="233.93" width="82" height="211.67" fill="#204060"/><rect x="599" y="234.94" width="82" height="210.66" fill="#ffffff"/><rect x="599" y="235.95" width="82" height="209.65" fill="#d8d8e0"/><rect x="599" y="237.21" width="82" height="208.39" fill="#c8b8f8"/><rect x="599" y="238.98" width="82" height="206.62" fill="#f0f0f0"/><rect x="599" y="239.74" width="82" height="205.86" fill="#407050"/><rect x="599" y="240.62" width="82" height="204.98" fill="#d0a060"/><rect x="599" y="241.51" width="82" height="204.09" fill="#f0f0f0"/><rect x="599" y="242.52" width="82" height="203.08" fill="#20b0b0"/><rect x="599" y="243.78" width="82" height="201.82" fill="#fe9a6c"/><rect x="599" y="259.56" width="82" height="186.04" fill="#6090f0"/><rect x="599" y="260.82" width="82" height="184.78" fill="#ffffff"/><rect x="599" y="261.71" width="82" height="183.89" fill="#b0f0f8"/><rect x="599" y="262.72" width="82" height="182.88" fill="#f0f0f0"/><rect x="599" y="263.73" width="82" height="181.87" fill="#8090a0"/><rect x="599" y="264.99" width="82" height="180.61" fill="#f0f0f0"/><rect x="599" y="265.87" width="82" height="179.73" fill="#fde0c8"/><rect x="599" y="266.76" width="82" height="178.84" fill="#208090"/><rect x="599" y="267.77" width="82" height="177.83" fill="#f07050"/><rect x="599" y="268.78" width="82" height="176.82" fill="#e0b040"/><rect x="599" y="270.04" width="82" height="175.56" fill="#20b0d0"/><rect x="599" y="271.81" width="82" height="173.79" fill="#ffffff"/><rect x="599" y="272.57" width="82" height="173.03" fill="#a0a0f0"/><rect x="599" y="273.45" width="82" height="172.15" fill="#ffffff"/><rect x="599" y="274.00" width="82" height="171.60" fill="#c8e8d0"/><rect x="599" y="275.26" width="82" height="170.34" fill="#ffffff"/><rect x="599" y="275.89" width="82" height="169.71" fill="#f8c890"/><rect x="599" y="277.16" width="82" height="168.44" fill="#e0e0f8"/><rect x="599" y="278.04" width="82" height="167.56" fill="#b0b0fa"/><rect x="599" y="280.94" width="82" height="164.66" fill="#f08030"/><rect x="599" y="282.21" width="82" height="163.39" fill="#f8a080"/><rect x="599" y="283.09" width="82" height="162.51" fill="#30a080"/><rect x="599" y="284.35" width="82" height="161.25" fill="#f0f0f0"/><rect x="599" y="285.11" width="82" height="160.49" fill="#f8a070"/><rect x="599" y="286.63" width="82" height="158.97" fill="#1a4a6a"/><rect x="599" y="287.64" width="82" height="157.96" fill="#ffffff"/><rect x="599" y="288.90" width="82" height="156.70" fill="#fcf0c0"/><rect x="599" y="289.78" width="82" height="155.82" fill="#6090b0"/><rect x="599" y="291.05" width="82" height="154.55" fill="#f0f0f0"/><rect x="599" y="291.93" width="82" height="153.67" fill="#f0c0d0"/><rect x="599" y="292.94" width="82" height="152.66" fill="#a0d0f0"/><rect x="599" y="293.95" width="82" height="151.65" fill="#c0a070"/><rect x="599" y="295.21" width="82" height="150.39" fill="#6090b0"/><rect x="599" y="296.10" width="82" height="149.50" fill="#208090"/><rect x="599" y="296.98" width="82" height="148.62" fill="#f8a040"/><rect x="599" y="297.99" width="82" height="147.61" fill="#a0c8e8"/><rect x="599" y="303.29" width="82" height="142.31" fill="#60b060"/><rect x="599" y="304.05" width="82" height="141.55" fill="#20b0a0"/><rect x="599" y="305.31" width="82" height="140.29" fill="#ffffff"/><rect x="599" y="306.20" width="82" height="139.40" fill="#fde8d0"/><rect x="599" y="307.46" width="82" height="138.14" fill="#b0a0a0"/><rect x="599" y="309.35" width="82" height="136.25" fill="#f0f0f0"/><rect x="599" y="310.62" width="82" height="134.98" fill="#f8b080"/><rect x="599" y="311.63" width="82" height="133.97" fill="#5070e0"/><rect x="599" y="313.14" width="82" height="132.46" fill="#2a7358"/><rect x="599" y="315.04" width="82" height="130.56" fill="#f8a040"/><rect x="599" y="315.92" width="82" height="129.68" fill="#f0f0f0"/><rect x="599" y="316.93" width="82" height="128.67" fill="#30a0f0"/><rect x="599" y="317.94" width="82" height="127.66" fill="#c0b090"/><rect x="599" y="318.82" width="82" height="126.78" fill="#2a6050"/><rect x="599" y="319.71" width="82" height="125.89" fill="#f0f0f0"/><rect x="599" y="320.72" width="82" height="124.88" fill="#a0e8f8"/><rect x="599" y="321.98" width="82" height="123.62" fill="#8090e0"/><rect x="599" y="323.49" width="82" height="122.11" fill="#4070e0"/><rect x="599" y="324.76" width="82" height="120.84" fill="#f8a040"/><rect x="599" y="325.77" width="82" height="119.83" fill="#f0f0f0"/><rect x="599" y="326.78" width="82" height="118.82" fill="#5090c0"/><rect x="599" y="328.04" width="82" height="117.56" fill="#f0f0f0"/><rect x="599" y="328.92" width="82" height="116.68" fill="#fde0c8"/><rect x="599" y="330.19" width="82" height="115.41" fill="#40c8e0"/><rect x="599" y="331.45" width="82" height="114.15" fill="#f0f0f0"/><rect x="599" y="332.00" width="82" height="113.60" fill="#f8a040"/><rect x="599" y="334.78" width="82" height="110.82" fill="#3070c0"/><rect x="599" y="336.04" width="82" height="109.56" fill="#f0f0f0"/><rect x="599" y="337.05" width="82" height="108.55" fill="#9080d0"/><rect x="599" y="338.06" width="82" height="107.54" fill="#d0a070"/><rect x="599" y="338.94" width="82" height="106.66" fill="#40a0a0"/><rect x="599" y="339.83" width="82" height="105.77" fill="#308080"/><rect x="599" y="340.84" width="82" height="104.76" fill="#b0f4fc"/><rect x="599" y="344.63" width="82" height="100.97" fill="#fde0e0"/><rect x="599" y="345.64" width="82" height="99.96" fill="#6090a0"/><rect x="599" y="346.52" width="82" height="99.08" fill="#f0f0f0"/><rect x="599" y="347.40" width="82" height="98.20" fill="#a0a8e8"/><rect x="599" y="348.67" width="82" height="96.93" fill="#90a080"/><rect x="599" y="350.94" width="82" height="94.66" fill="#f0f0f0"/><rect x="599" y="351.57" width="82" height="94.03" fill="#f07070"/><rect x="599" y="352.83" width="82" height="92.77" fill="#205050"/><rect x="599" y="353.72" width="82" height="91.88" fill="#f0f0f0"/><rect x="599" y="354.73" width="82" height="90.87" fill="#a080e0"/><rect x="599" y="355.99" width="82" height="89.61" fill="#6080e0"/><rect x="599" y="357.00" width="82" height="88.60" fill="#80d0b0"/><rect x="599" y="357.88" width="82" height="87.72" fill="#d0e8d0"/><rect x="599" y="358.77" width="82" height="86.83" fill="#f0d070"/><rect x="599" y="359.78" width="82" height="85.82" fill="#d8d0f8"/><rect x="599" y="361.04" width="82" height="84.56" fill="#e8e8fc"/><rect x="599" y="362.30" width="82" height="83.30" fill="#6090a0"/><rect x="599" y="363.31" width="82" height="82.29" fill="#f0f0f0"/><rect x="599" y="364.20" width="82" height="81.40" fill="#c0a080"/><rect x="599" y="365.46" width="82" height="80.14" fill="#f07830"/><rect x="599" y="367.35" width="82" height="78.25" fill="#d0b070"/><rect x="599" y="368.62" width="82" height="76.98" fill="#f0f0f0"/><rect x="599" y="369.63" width="82" height="75.97" fill="#e0c050"/><rect x="599" y="370.51" width="82" height="75.09" fill="#1a5a6a"/><rect x="599" y="371.39" width="82" height="74.21" fill="#f0f0f0"/><rect x="599" y="372.40" width="82" height="73.20" fill="#a0e8f0"/><rect x="599" y="374.30" width="82" height="71.30" fill="#40a0a0"/><rect x="599" y="375.18" width="82" height="70.42" fill="#f09070"/><rect x="599" y="375.94" width="82" height="69.66" fill="#6060f8"/><rect x="599" y="379.35" width="82" height="66.25" fill="#2a7358"/><rect x="599" y="396.94" width="82" height="48.66" fill="#30a080"/><rect x="599" y="398.21" width="82" height="47.39" fill="#f0f0f0"/><rect x="599" y="399.09" width="82" height="46.51" fill="#f8b060"/><rect x="599" y="400.10" width="82" height="45.50" fill="#fcf0d0"/><rect x="599" y="401.11" width="82" height="44.49" fill="#c8c8fa"/><rect x="599" y="405.78" width="82" height="39.82" fill="#f0f0f0"/><rect x="599" y="406.67" width="82" height="38.93" fill="#40a8c8"/><rect x="599" y="408.31" width="82" height="37.29" fill="#f0f0f0"/><rect x="599" y="409.19" width="82" height="36.41" fill="#f8a040"/><rect x="599" y="410.83" width="82" height="34.77" fill="#d0a070"/><rect x="599" y="411.72" width="82" height="33.88" fill="#f07050"/><rect x="599" y="412.73" width="82" height="32.87" fill="#c0e8d8"/><rect x="599" y="413.74" width="82" height="31.86" fill="#80a890"/><rect x="599" y="414.62" width="82" height="30.98" fill="#8080e0"/><rect x="599" y="415.88" width="82" height="29.72" fill="#a09050"/><rect x="599" y="416.77" width="82" height="28.83" fill="#4a70a0"/><rect x="599" y="417.53" width="82" height="28.07" fill="#f0f0f0"/><rect x="599" y="418.41" width="82" height="27.19" fill="#b0e0d0"/><rect x="599" y="427.25" width="82" height="18.35" fill="#4070a0"/><rect x="599" y="428.51" width="82" height="17.09" fill="#60c8f8"/><rect x="599" y="429.77" width="82" height="15.83" fill="#d0d0f0"/><rect x="599" y="431.04" width="82" height="14.56" fill="#60a0a0"/><rect x="599" y="432.30" width="82" height="13.30" fill="#f0f0f0"/><rect x="599" y="432.93" width="82" height="12.67" fill="#f8a040"/><rect x="599" y="434.82" width="82" height="10.78" fill="#107080"/><rect x="599" y="436.09" width="82" height="9.51" fill="#f0f0f0"/><rect x="599" y="436.97" width="82" height="8.63" fill="#6cb866"/><rect x="599" y="444.04" width="82" height="1.56" fill="#7080f0"/><rect x="599" y="444.92" width="82" height="0.68" fill="#306a60"/></g>
<g><rect x="768" y="109.95" width="82" height="335.65" fill="#20a8c0"/><rect x="768" y="111.09" width="82" height="334.51" fill="#f08080"/><rect x="768" y="111.85" width="82" height="333.75" fill="#203060"/><rect x="768" y="113.11" width="82" height="332.49" fill="#ffffff"/><rect x="768" y="113.99" width="82" height="331.61" fill="#d8d8f8"/><rect x="768" y="115.89" width="82" height="329.71" fill="#f0f0f0"/><rect x="768" y="116.90" width="82" height="328.70" fill="#c0d0a0"/><rect x="768" y="118.16" width="82" height="327.44" fill="#b0e0d0"/><rect x="768" y="119.05" width="82" height="326.55" fill="#fdc0a0"/><rect x="768" y="120.94" width="82" height="324.66" fill="#b0b0fa"/><rect x="768" y="125.99" width="82" height="319.61" fill="#60a8a0"/><rect x="768" y="127.88" width="82" height="317.72" fill="#f0a040"/><rect x="768" y="129.15" width="82" height="316.45" fill="#4060e0"/><rect x="768" y="131.04" width="82" height="314.56" fill="#2a7358"/><rect x="768" y="135.46" width="82" height="310.14" fill="#e0f0f0"/><rect x="768" y="136.72" width="82" height="308.88" fill="#6cb866"/><rect x="768" y="142.15" width="82" height="303.45" fill="#c0c0f0"/><rect x="768" y="143.04" width="82" height="302.56" fill="#fcc090"/><rect x="768" y="143.92" width="82" height="301.68" fill="#1a5a6a"/><rect x="768" y="144.93" width="82" height="300.67" fill="#f0f0f0"/><rect x="768" y="145.94" width="82" height="299.66" fill="#c0b090"/><rect x="768" y="147.20" width="82" height="298.40" fill="#2a6050"/><rect x="768" y="148.09" width="82" height="297.51" fill="#f0f0f0"/><rect x="768" y="148.97" width="82" height="296.63" fill="#40a0b0"/><rect x="768" y="149.98" width="82" height="295.62" fill="#30b080"/><rect x="768" y="151.24" width="82" height="294.36" fill="#3080f0"/><rect x="768" y="152.25" width="82" height="293.35" fill="#6090a0"/><rect x="768" y="153.14" width="82" height="292.46" fill="#f0e8b0"/><rect x="768" y="154.40" width="82" height="291.20" fill="#f0f0f0"/><rect x="768" y="155.28" width="82" height="290.32" fill="#b0d0f0"/><rect x="768" y="157.56" width="82" height="288.04" fill="#d0f0e8"/><rect x="768" y="158.82" width="82" height="286.78" fill="#fcc090"/><rect x="768" y="159.83" width="82" height="285.77" fill="#e0c8f0"/><rect x="768" y="160.00" width="82" height="285.60" fill="#a0c8d8"/><rect x="768" y="161.89" width="82" height="283.71" fill="#6090a0"/><rect x="768" y="162.78" width="82" height="282.82" fill="#f8a040"/><rect x="768" y="164.80" width="82" height="280.80" fill="#4060d0"/><rect x="768" y="165.68" width="82" height="279.92" fill="#2050c0"/><rect x="768" y="166.94" width="82" height="278.66" fill="#1a5a6a"/><rect x="768" y="167.83" width="82" height="277.77" fill="#f0f0f0"/><rect x="768" y="168.59" width="82" height="277.01" fill="#c0d8a0"/><rect x="768" y="169.85" width="82" height="275.75" fill="#f0f0f0"/><rect x="768" y="170.73" width="82" height="274.87" fill="#b0f0f0"/><rect x="768" y="171.99" width="82" height="273.61" fill="#60d0e0"/><rect x="768" y="172.88" width="82" height="272.72" fill="#fdc0a8"/><rect x="768" y="175.15" width="82" height="270.45" fill="#b0b0f0"/><rect x="768" y="177.05" width="82" height="268.55" fill="#f0f0f0"/><rect x="768" y="177.93" width="82" height="267.67" fill="#f8a848"/><rect x="768" y="180.20" width="82" height="265.40" fill="#f0f0f0"/><rect x="768" y="180.83" width="82" height="264.77" fill="#1090b0"/><rect x="768" y="183.99" width="82" height="261.61" fill="#707070"/><rect x="768" y="185.25" width="82" height="260.35" fill="#808040"/><rect x="768" y="185.88" width="82" height="259.72" fill="#ff8000"/><rect x="768" y="202.93" width="82" height="242.67" fill="#a0c0a0"/><rect x="768" y="204.82" width="82" height="240.78" fill="#00a8cc"/><rect x="768" y="220.53" width="82" height="225.07" fill="#909080"/><rect x="768" y="221.54" width="82" height="224.06" fill="#70a8b8"/><rect x="768" y="222.80" width="82" height="222.80" fill="#80c0f0"/><rect x="768" y="224.06" width="82" height="221.54" fill="#70d8f0"/><rect x="768" y="225.58" width="82" height="220.02" fill="#fdc0a8"/><rect x="768" y="230.63" width="82" height="214.97" fill="#e0c0d0"/><rect x="768" y="231.64" width="82" height="213.96" fill="#f08050"/><rect x="768" y="232.90" width="82" height="212.70" fill="#2a6050"/><rect x="768" y="233.78" width="82" height="211.82" fill="#60b060"/><rect x="768" y="234.67" width="82" height="210.93" fill="#6090a0"/><rect x="768" y="235.68" width="82" height="209.92" fill="#a0a0a0"/><rect x="768" y="236.69" width="82" height="208.91" fill="#ffffff"/><rect x="768" y="237.57" width="82" height="208.03" fill="#406080"/><rect x="768" y="238.45" width="82" height="207.15" fill="#ffffff"/><rect x="768" y="239.21" width="82" height="206.39" fill="#f0c0d0"/><rect x="768" y="240.73" width="82" height="204.87" fill="#c0b090"/><rect x="768" y="241.74" width="82" height="203.86" fill="#a08030"/><rect x="768" y="243.00" width="82" height="202.60" fill="#60b060"/><rect x="768" y="243.88" width="82" height="201.72" fill="#20b0b0"/><rect x="768" y="244.77" width="82" height="200.83" fill="#fe9a6c"/><rect x="768" y="259.67" width="82" height="185.93" fill="#6090f0"/><rect x="768" y="260.68" width="82" height="184.92" fill="#b0f0f8"/><rect x="768" y="261.56" width="82" height="184.04" fill="#e0e8f8"/><rect x="768" y="263.20" width="82" height="182.40" fill="#f0f0f0"/><rect x="768" y="264.09" width="82" height="181.51" fill="#f0e0a0"/><rect x="768" y="264.97" width="82" height="180.63" fill="#f0f0f0"/><rect x="768" y="265.73" width="82" height="179.87" fill="#c0c0f0"/><rect x="768" y="266.99" width="82" height="178.61" fill="#f0f0f0"/><rect x="768" y="267.87" width="82" height="177.73" fill="#2070d0"/><rect x="768" y="269.14" width="82" height="176.46" fill="#f0f0f0"/><rect x="768" y="270.02" width="82" height="175.58" fill="#30a0b0"/><rect x="768" y="271.03" width="82" height="174.57" fill="#c0e8d8"/><rect x="768" y="272.04" width="82" height="173.56" fill="#8090f0"/><rect x="768" y="272.92" width="82" height="172.68" fill="#f0f0f0"/><rect x="768" y="273.81" width="82" height="171.79" fill="#f0d890"/><rect x="768" y="275.45" width="82" height="170.15" fill="#f0f0f0"/><rect x="768" y="276.00" width="82" height="169.60" fill="#c0e8d8"/><rect x="768" y="277.01" width="82" height="168.59" fill="#6090a0"/><rect x="768" y="277.89" width="82" height="167.71" fill="#e0c0e0"/><rect x="768" y="278.78" width="82" height="166.82" fill="#a0c8f0"/><rect x="768" y="279.79" width="82" height="165.81" fill="#4080d0"/><rect x="768" y="280.80" width="82" height="164.80" fill="#30a0a0"/><rect x="768" y="281.68" width="82" height="163.92" fill="#e89020"/><rect x="768" y="282.94" width="82" height="162.66" fill="#40a070"/><rect x="768" y="283.83" width="82" height="161.77" fill="#f0a080"/><rect x="768" y="284.84" width="82" height="160.76" fill="#f89060"/><rect x="768" y="287.36" width="82" height="158.24" fill="#b0f0f8"/><rect x="768" y="288.37" width="82" height="157.23" fill="#a8e8f0"/><rect x="768" y="290.14" width="82" height="155.46" fill="#f0f0f0"/><rect x="768" y="290.90" width="82" height="154.70" fill="#fcd0a0"/><rect x="768" y="291.78" width="82" height="153.82" fill="#3080c0"/><rect x="768" y="293.05" width="82" height="152.55" fill="#f0f0f0"/><rect x="768" y="293.93" width="82" height="151.67" fill="#fde0c8"/><rect x="768" y="294.94" width="82" height="150.66" fill="#f8a040"/><rect x="768" y="296.83" width="82" height="148.77" fill="#2060d0"/><rect x="768" y="297.72" width="82" height="147.88" fill="#a0d0f0"/><rect x="768" y="298.73" width="82" height="146.87" fill="#fcd0a0"/><rect x="768" y="299.74" width="82" height="145.86" fill="#a0c8e8"/><rect x="768" y="304.03" width="82" height="141.57" fill="#40b080"/><rect x="768" y="305.04" width="82" height="140.56" fill="#10a0a0"/><rect x="768" y="306.05" width="82" height="139.55" fill="#f0f0f0"/><rect x="768" y="306.93" width="82" height="138.67" fill="#fcf0d8"/><rect x="768" y="307.82" width="82" height="137.78" fill="#7090a0"/><rect x="768" y="308.83" width="82" height="136.77" fill="#f0f0f0"/><rect x="768" y="309.84" width="82" height="135.76" fill="#c0b090"/><rect x="768" y="310.72" width="82" height="134.88" fill="#4a70a0"/><rect x="768" y="311.98" width="82" height="133.62" fill="#6070e0"/><rect x="768" y="312.87" width="82" height="132.73" fill="#2a7358"/><rect x="768" y="315.77" width="82" height="129.83" fill="#f0a040"/><rect x="768" y="316.66" width="82" height="128.94" fill="#f0f0f0"/><rect x="768" y="317.67" width="82" height="127.93" fill="#30b8e0"/><rect x="768" y="318.93" width="82" height="126.67" fill="#205050"/><rect x="768" y="319.94" width="82" height="125.66" fill="#f0f0f0"/><rect x="768" y="320.82" width="82" height="124.78" fill="#e0e0f8"/><rect x="768" y="322.09" width="82" height="123.51" fill="#f0f0f0"/><rect x="768" y="322.97" width="82" height="122.63" fill="#f0c0d0"/><rect x="768" y="323.98" width="82" height="121.62" fill="#f08040"/><rect x="768" y="324.99" width="82" height="120.61" fill="#f0f0f0"/><rect x="768" y="325.87" width="82" height="119.73" fill="#70c0a0"/><rect x="768" y="327.14" width="82" height="118.46" fill="#f0a040"/><rect x="768" y="328.02" width="82" height="117.58" fill="#a070d0"/><rect x="768" y="328.78" width="82" height="116.82" fill="#f0f0f0"/><rect x="768" y="329.66" width="82" height="115.94" fill="#e0f0f0"/><rect x="768" y="330.55" width="82" height="115.05" fill="#40c8e0"/><rect x="768" y="331.30" width="82" height="114.30" fill="#3090c8"/><rect x="768" y="332.57" width="82" height="113.03" fill="#f0f0f0"/><rect x="768" y="333.45" width="82" height="112.15" fill="#f8a040"/><rect x="768" y="335.01" width="82" height="110.59" fill="#806020"/><rect x="768" y="335.89" width="82" height="109.71" fill="#c0b090"/><rect x="768" y="337.16" width="82" height="108.44" fill="#e0a090"/><rect x="768" y="338.04" width="82" height="107.56" fill="#e0e0f8"/><rect x="768" y="339.05" width="82" height="106.55" fill="#a080c0"/><rect x="768" y="340.06" width="82" height="105.54" fill="#b0a060"/><rect x="768" y="340.94" width="82" height="104.66" fill="#208090"/><rect x="768" y="341.83" width="82" height="103.77" fill="#b0f4fc"/><rect x="768" y="346.63" width="82" height="98.97" fill="#6080a0"/><rect x="768" y="347.64" width="82" height="97.96" fill="#f0f0f0"/><rect x="768" y="348.52" width="82" height="97.08" fill="#c0b0a0"/><rect x="768" y="349.78" width="82" height="95.82" fill="#90a080"/><rect x="768" y="351.68" width="82" height="93.92" fill="#707060"/><rect x="768" y="352.69" width="82" height="92.91" fill="#e09020"/><rect x="768" y="353.57" width="82" height="92.03" fill="#f0f0f0"/><rect x="768" y="354.45" width="82" height="91.15" fill="#b080e0"/><rect x="768" y="355.46" width="82" height="90.14" fill="#60b0a0"/><rect x="768" y="356.47" width="82" height="89.13" fill="#b0e0d0"/><rect x="768" y="357.36" width="82" height="88.24" fill="#f0f0f0"/><rect x="768" y="358.24" width="82" height="87.36" fill="#d8d0fa"/><rect x="768" y="359.25" width="82" height="86.35" fill="#e8e0fc"/><rect x="768" y="360.52" width="82" height="85.08" fill="#6090a0"/><rect x="768" y="361.53" width="82" height="84.07" fill="#40c0e0"/><rect x="768" y="362.79" width="82" height="82.81" fill="#f0f0f0"/><rect x="768" y="363.67" width="82" height="81.93" fill="#d0a070"/><rect x="768" y="364.56" width="82" height="81.04" fill="#f0f0f0"/><rect x="768" y="365.57" width="82" height="80.03" fill="#107080"/><rect x="768" y="366.58" width="82" height="79.02" fill="#f0f0f0"/><rect x="768" y="367.46" width="82" height="78.14" fill="#c0b090"/><rect x="768" y="368.34" width="82" height="77.26" fill="#f09070"/><rect x="768" y="369.35" width="82" height="76.25" fill="#f0d060"/><rect x="768" y="370.36" width="82" height="75.24" fill="#1a4a5a"/><rect x="768" y="371.25" width="82" height="74.35" fill="#f0f0f0"/><rect x="768" y="372.13" width="82" height="73.47" fill="#fcc090"/><rect x="768" y="373.39" width="82" height="72.21" fill="#f0a080"/><rect x="768" y="374.66" width="82" height="70.94" fill="#d090a0"/><rect x="768" y="375.67" width="82" height="69.93" fill="#6060f8"/><rect x="768" y="379.45" width="82" height="66.15" fill="#2a7358"/><rect x="768" y="397.32" width="82" height="48.28" fill="#30a080"/><rect x="768" y="398.84" width="82" height="46.76" fill="#fde0c8"/><rect x="768" y="399.85" width="82" height="45.75" fill="#fcd090"/><rect x="768" y="401.36" width="82" height="44.24" fill="#c8c8fa"/><rect x="768" y="405.15" width="82" height="40.45" fill="#c0e8d8"/><rect x="768" y="406.67" width="82" height="38.93" fill="#90a0a0"/><rect x="768" y="407.68" width="82" height="37.92" fill="#e0c090"/><rect x="768" y="408.94" width="82" height="36.66" fill="#f8a040"/><rect x="768" y="411.21" width="82" height="34.39" fill="#c06060"/><rect x="768" y="412.10" width="82" height="33.50" fill="#f0f0f0"/><rect x="768" y="412.98" width="82" height="32.62" fill="#60b060"/><rect x="768" y="414.62" width="82" height="30.98" fill="#8080e0"/><rect x="768" y="415.51" width="82" height="30.09" fill="#a09050"/><rect x="768" y="416.52" width="82" height="29.08" fill="#4a70a0"/><rect x="768" y="417.53" width="82" height="28.07" fill="#f0f0f0"/><rect x="768" y="418.41" width="82" height="27.19" fill="#b0e0d0"/><rect x="768" y="427.88" width="82" height="17.72" fill="#fcc090"/><rect x="768" y="428.89" width="82" height="16.71" fill="#60c8f8"/><rect x="768" y="430.15" width="82" height="15.45" fill="#c0c0f0"/><rect x="768" y="431.04" width="82" height="14.56" fill="#60a0a0"/><rect x="768" y="432.93" width="82" height="12.67" fill="#f8a040"/><rect x="768" y="435.45" width="82" height="10.15" fill="#b05070"/><rect x="768" y="436.97" width="82" height="8.63" fill="#f0f0f0"/><rect x="768" y="437.73" width="82" height="7.87" fill="#6cb866"/><rect x="768" y="443.03" width="82" height="2.57" fill="#f8a040"/><rect x="768" y="444.04" width="82" height="1.56" fill="#7080f0"/><rect x="768" y="444.92" width="82" height="0.68" fill="#306a60"/></g>
<g><rect x="936" y="107.32" width="83" height="338.28" fill="#b0f0f8"/><rect x="936" y="107.83" width="83" height="337.77" fill="#2080e0"/><rect x="936" y="109.47" width="83" height="336.13" fill="#f0f0f0"/><rect x="936" y="110.35" width="83" height="335.25" fill="#f8e0e8"/><rect x="936" y="111.11" width="83" height="334.49" fill="#d8d0f8"/><rect x="936" y="113.26" width="83" height="332.34" fill="#fcc0a0"/><rect x="936" y="113.89" width="83" height="331.71" fill="#70c8d0"/><rect x="936" y="115.15" width="83" height="330.45" fill="#fdc0a8"/><rect x="936" y="117.42" width="83" height="328.18" fill="#b0b0fa"/><rect x="936" y="122.47" width="83" height="323.13" fill="#60a8a0"/><rect x="936" y="125.00" width="83" height="320.60" fill="#f0a040"/><rect x="936" y="125.88" width="83" height="319.72" fill="#3060d0"/><rect x="936" y="127.78" width="83" height="317.82" fill="#2a7358"/><rect x="936" y="132.20" width="83" height="313.40" fill="#c08020"/><rect x="936" y="133.08" width="83" height="312.52" fill="#f0f0f0"/><rect x="936" y="133.84" width="83" height="311.76" fill="#6cb866"/><rect x="936" y="139.39" width="83" height="306.21" fill="#f0f0f0"/><rect x="936" y="140.15" width="83" height="305.45" fill="#fcf0c0"/><rect x="936" y="141.04" width="83" height="304.56" fill="#b0f0f8"/><rect x="936" y="141.92" width="83" height="303.68" fill="#30a0d0"/><rect x="936" y="142.93" width="83" height="302.67" fill="#d0a060"/><rect x="936" y="143.94" width="83" height="301.66" fill="#507080"/><rect x="936" y="144.82" width="83" height="300.78" fill="#f0f0f0"/><rect x="936" y="145.71" width="83" height="299.89" fill="#50b070"/><rect x="936" y="146.97" width="83" height="298.63" fill="#20a0e0"/><rect x="936" y="147.98" width="83" height="297.62" fill="#20a0e8"/><rect x="936" y="149.24" width="83" height="296.36" fill="#f0f0f0"/><rect x="936" y="150.25" width="83" height="295.35" fill="#40a0a0"/><rect x="936" y="151.14" width="83" height="294.46" fill="#206060"/><rect x="936" y="152.02" width="83" height="293.58" fill="#f0f0f0"/><rect x="936" y="153.03" width="83" height="292.57" fill="#c0d8f8"/><rect x="936" y="154.55" width="83" height="291.05" fill="#fcf0c0"/><rect x="936" y="155.56" width="83" height="290.04" fill="#d0b070"/><rect x="936" y="156.57" width="83" height="289.03" fill="#c0a0c0"/><rect x="936" y="157.83" width="83" height="287.77" fill="#f0f0f0"/><rect x="936" y="158.00" width="83" height="287.60" fill="#b0b0f0"/><rect x="936" y="159.01" width="83" height="286.59" fill="#fce0d0"/><rect x="936" y="159.89" width="83" height="285.71" fill="#f8a040"/><rect x="936" y="161.79" width="83" height="283.81" fill="#40a0b0"/><rect x="936" y="162.80" width="83" height="282.80" fill="#3050d0"/><rect x="936" y="164.06" width="83" height="281.54" fill="#1a5a6a"/><rect x="936" y="164.94" width="83" height="280.66" fill="#40a080"/><rect x="936" y="165.83" width="83" height="279.77" fill="#f0e0a0"/><rect x="936" y="166.84" width="83" height="278.76" fill="#ffffff"/><rect x="936" y="167.85" width="83" height="277.75" fill="#fcf0d0"/><rect x="936" y="168.73" width="83" height="276.87" fill="#f0f0f0"/><rect x="936" y="169.62" width="83" height="275.98" fill="#70d8e0"/><rect x="936" y="170.63" width="83" height="274.97" fill="#f0f0f0"/><rect x="936" y="171.64" width="83" height="273.96" fill="#fdc0a8"/><rect x="936" y="173.15" width="83" height="272.45" fill="#e0c0e0"/><rect x="936" y="174.41" width="83" height="271.19" fill="#b0c0f0"/><rect x="936" y="175.42" width="83" height="270.18" fill="#f8a848"/><rect x="936" y="177.95" width="83" height="267.65" fill="#1090b0"/><rect x="936" y="183.00" width="83" height="262.60" fill="#4050c0"/><rect x="936" y="183.88" width="83" height="261.72" fill="#808040"/><rect x="936" y="184.52" width="83" height="261.08" fill="#ff8000"/><rect x="936" y="201.56" width="83" height="244.04" fill="#60a8a0"/><rect x="936" y="202.19" width="83" height="243.41" fill="#00a8cc"/><rect x="936" y="217.26" width="83" height="228.34" fill="#fcc060"/><rect x="936" y="218.27" width="83" height="227.33" fill="#ffffff"/><rect x="936" y="219.16" width="83" height="226.44" fill="#e0e0e0"/><rect x="936" y="220.42" width="83" height="225.18" fill="#b0f0f8"/><rect x="936" y="221.30" width="83" height="224.30" fill="#30c8f0"/><rect x="936" y="222.57" width="83" height="223.03" fill="#f0f0f0"/><rect x="936" y="223.32" width="83" height="222.28" fill="#fdc0a8"/><rect x="936" y="229.26" width="83" height="216.34" fill="#a0a0f8"/><rect x="936" y="230.52" width="83" height="215.08" fill="#a07070"/><rect x="936" y="231.40" width="83" height="214.20" fill="#30a0a0"/><rect x="936" y="232.41" width="83" height="213.19" fill="#40a080"/><rect x="936" y="233.42" width="83" height="212.18" fill="#f0f0f0"/><rect x="936" y="234.31" width="83" height="211.29" fill="#203050"/><rect x="936" y="234.94" width="83" height="210.66" fill="#f0f0f0"/><rect x="936" y="235.95" width="83" height="209.65" fill="#d8d8e0"/><rect x="936" y="237.72" width="83" height="207.88" fill="#c0b0f0"/><rect x="936" y="238.73" width="83" height="206.87" fill="#907030"/><rect x="936" y="239.99" width="83" height="205.61" fill="#70a050"/><rect x="936" y="241.00" width="83" height="204.60" fill="#20b0a0"/><rect x="936" y="242.26" width="83" height="203.34" fill="#fe9a6c"/><rect x="936" y="258.93" width="83" height="186.67" fill="#4050d0"/><rect x="936" y="260.44" width="83" height="185.16" fill="#f0f0f0"/><rect x="936" y="261.45" width="83" height="184.15" fill="#b0f0f8"/><rect x="936" y="262.46" width="83" height="183.14" fill="#c0e8d8"/><rect x="936" y="263.35" width="83" height="182.25" fill="#f0f0f0"/><rect x="936" y="264.23" width="83" height="181.37" fill="#a090c0"/><rect x="936" y="265.24" width="83" height="180.36" fill="#ffffff"/><rect x="936" y="266.25" width="83" height="179.35" fill="#30a0e0"/><rect x="936" y="267.14" width="83" height="178.46" fill="#e08080"/><rect x="936" y="268.02" width="83" height="177.58" fill="#30a0a0"/><rect x="936" y="268.78" width="83" height="176.82" fill="#f0f0f0"/><rect x="936" y="269.66" width="83" height="175.94" fill="#40b090"/><rect x="936" y="270.55" width="83" height="175.05" fill="#f0f0f0"/><rect x="936" y="271.56" width="83" height="174.04" fill="#9070e0"/><rect x="936" y="272.57" width="83" height="173.03" fill="#f0e0a0"/><rect x="936" y="273.45" width="83" height="172.15" fill="#f0f0f0"/><rect x="936" y="275.01" width="83" height="170.59" fill="#6090a0"/><rect x="936" y="275.89" width="83" height="169.71" fill="#f0c0d0"/><rect x="936" y="276.78" width="83" height="168.82" fill="#b0b0f8"/><rect x="936" y="278.80" width="83" height="166.80" fill="#6090a0"/><rect x="936" y="279.68" width="83" height="165.92" fill="#f08020"/><rect x="936" y="280.94" width="83" height="164.66" fill="#30a0a0"/><rect x="936" y="282.21" width="83" height="163.39" fill="#40b090"/><rect x="936" y="283.85" width="83" height="161.75" fill="#f89060"/><rect x="936" y="285.99" width="83" height="159.61" fill="#b0e0d0"/><rect x="936" y="286.88" width="83" height="158.72" fill="#ffffff"/><rect x="936" y="287.89" width="83" height="157.71" fill="#fcf0d8"/><rect x="936" y="288.90" width="83" height="156.70" fill="#f0f0f0"/><rect x="936" y="289.78" width="83" height="155.82" fill="#6090a0"/><rect x="936" y="290.67" width="83" height="154.93" fill="#f0f0f0"/><rect x="936" y="292.69" width="83" height="152.91" fill="#c0a080"/><rect x="936" y="294.83" width="83" height="150.77" fill="#208080"/><rect x="936" y="295.72" width="83" height="149.88" fill="#1a6060"/><rect x="936" y="296.73" width="83" height="148.87" fill="#f8a040"/><rect x="936" y="297.74" width="83" height="147.86" fill="#a0c8e8"/><rect x="936" y="302.79" width="83" height="142.81" fill="#20a090"/><rect x="936" y="304.05" width="83" height="141.55" fill="#f0f0f0"/><rect x="936" y="304.93" width="83" height="140.67" fill="#f0e0a0"/><rect x="936" y="305.82" width="83" height="139.78" fill="#fcc090"/><rect x="936" y="307.08" width="83" height="138.52" fill="#f0f0f0"/><rect x="936" y="308.09" width="83" height="137.51" fill="#e0a0b0"/><rect x="936" y="309.10" width="83" height="136.50" fill="#f0f0f0"/><rect x="936" y="309.98" width="83" height="135.62" fill="#6080c0"/><rect x="936" y="310.87" width="83" height="134.73" fill="#4050e0"/><rect x="936" y="312.13" width="83" height="133.47" fill="#2a7050"/><rect x="936" y="313.39" width="83" height="132.21" fill="#2a6050"/><rect x="936" y="314.40" width="83" height="131.20" fill="#f8a040"/><rect x="936" y="315.41" width="83" height="130.19" fill="#f0f0f0"/><rect x="936" y="316.30" width="83" height="129.30" fill="#1060d0"/><rect x="936" y="317.94" width="83" height="127.66" fill="#f0f0f0"/><rect x="936" y="319.71" width="83" height="125.89" fill="#fcd0a0"/><rect x="936" y="320.97" width="83" height="124.63" fill="#f0f0f0"/><rect x="936" y="321.98" width="83" height="123.62" fill="#a07070"/><rect x="936" y="322.99" width="83" height="122.61" fill="#f0f0f0"/><rect x="936" y="323.87" width="83" height="121.73" fill="#30a0a0"/><rect x="936" y="324.76" width="83" height="120.84" fill="#d8d8d8"/><rect x="936" y="325.77" width="83" height="119.83" fill="#50a070"/><rect x="936" y="326.78" width="83" height="118.82" fill="#f0f0f0"/><rect x="936" y="327.66" width="83" height="117.94" fill="#4070d0"/><rect x="936" y="328.55" width="83" height="117.05" fill="#f0f0f0"/><rect x="936" y="329.56" width="83" height="116.04" fill="#40d0e0"/><rect x="936" y="330.57" width="83" height="115.03" fill="#f0f0f0"/><rect x="936" y="331.45" width="83" height="114.15" fill="#c0b090"/><rect x="936" y="332.00" width="83" height="113.60" fill="#f8a040"/><rect x="936" y="333.01" width="83" height="112.59" fill="#207060"/><rect x="936" y="334.78" width="83" height="110.82" fill="#fde0c8"/><rect x="936" y="335.79" width="83" height="109.81" fill="#c0b090"/><rect x="936" y="336.80" width="83" height="108.80" fill="#a090d0"/><rect x="936" y="338.06" width="83" height="107.54" fill="#f0f0f0"/><rect x="936" y="338.94" width="83" height="106.66" fill="#b0a060"/><rect x="936" y="339.83" width="83" height="105.77" fill="#1a5a6a"/><rect x="936" y="340.84" width="83" height="104.76" fill="#b0f4fc"/><rect x="936" y="343.99" width="83" height="101.61" fill="#fde0e0"/><rect x="936" y="344.88" width="83" height="100.72" fill="#f0f0f0"/><rect x="936" y="345.89" width="83" height="99.71" fill="#e0b090"/><rect x="936" y="346.90" width="83" height="98.70" fill="#30a0a0"/><rect x="936" y="347.78" width="83" height="97.82" fill="#d08080"/><rect x="936" y="348.67" width="83" height="96.93" fill="#30a0a0"/><rect x="936" y="349.68" width="83" height="95.92" fill="#f0f0f0"/><rect x="936" y="350.69" width="83" height="94.91" fill="#f0b080"/><rect x="936" y="351.57" width="83" height="94.03" fill="#9070e0"/><rect x="936" y="352.45" width="83" height="93.15" fill="#4070e0"/><rect x="936" y="353.46" width="83" height="92.14" fill="#f0f0f0"/><rect x="936" y="354.47" width="83" height="91.13" fill="#e0c070"/><rect x="936" y="355.36" width="83" height="90.24" fill="#fcf0c0"/><rect x="936" y="356.24" width="83" height="89.36" fill="#f0f0f0"/><rect x="936" y="357.25" width="83" height="88.35" fill="#e0d0fa"/><rect x="936" y="358.52" width="83" height="87.08" fill="#a0e0d0"/><rect x="936" y="359.78" width="83" height="85.82" fill="#c0f0f8"/><rect x="936" y="360.79" width="83" height="84.81" fill="#f0f0f0"/><rect x="936" y="361.67" width="83" height="83.93" fill="#6090b0"/><rect x="936" y="362.56" width="83" height="83.04" fill="#d0a070"/><rect x="936" y="363.57" width="83" height="82.03" fill="#f0f0f0"/><rect x="936" y="364.58" width="83" height="81.02" fill="#f88030"/><rect x="936" y="366.09" width="83" height="79.51" fill="#f0f0f0"/><rect x="936" y="367.98" width="83" height="77.62" fill="#f0d070"/><rect x="936" y="369.25" width="83" height="76.35" fill="#808060"/><rect x="936" y="370.13" width="83" height="75.47" fill="#f0f0f0"/><rect x="936" y="371.14" width="83" height="74.46" fill="#80d0f0"/><rect x="936" y="372.40" width="83" height="73.20" fill="#f0f0f0"/><rect x="936" y="373.41" width="83" height="72.19" fill="#e08090"/><rect x="936" y="374.30" width="83" height="71.30" fill="#5858f8"/><rect x="936" y="376.82" width="83" height="68.78" fill="#2a7358"/><rect x="936" y="395.68" width="83" height="49.92" fill="#40a070"/><rect x="936" y="396.94" width="83" height="48.66" fill="#f0f0f0"/><rect x="936" y="397.83" width="83" height="47.77" fill="#f8a040"/><rect x="936" y="398.84" width="83" height="46.76" fill="#fcf0d8"/><rect x="936" y="399.85" width="83" height="45.75" fill="#ffffff"/><rect x="936" y="400.73" width="83" height="44.87" fill="#c8c8fa"/><rect x="936" y="404.52" width="83" height="41.08" fill="#c0e8d8"/><rect x="936" y="405.78" width="83" height="39.82" fill="#5080c0"/><rect x="936" y="407.05" width="83" height="38.55" fill="#f0f0f0"/><rect x="936" y="407.93" width="83" height="37.67" fill="#d0a070"/><rect x="936" y="408.94" width="83" height="36.66" fill="#9090e0"/><rect x="936" y="409.95" width="83" height="35.65" fill="#5060f0"/><rect x="936" y="410.83" width="83" height="34.77" fill="#f0f0f0"/><rect x="936" y="411.72" width="83" height="33.88" fill="#60b060"/><rect x="936" y="412.73" width="83" height="32.87" fill="#f0f0f0"/><rect x="936" y="413.36" width="83" height="32.24" fill="#d0a070"/><rect x="936" y="414.24" width="83" height="31.36" fill="#1a5a6a"/><rect x="936" y="415.00" width="83" height="30.60" fill="#f0f0f0"/><rect x="936" y="415.88" width="83" height="29.72" fill="#b0e0d0"/><rect x="936" y="427.88" width="83" height="17.72" fill="#fcc090"/><rect x="936" y="428.89" width="83" height="16.71" fill="#60c8f8"/><rect x="936" y="430.15" width="83" height="15.45" fill="#c0c0f0"/><rect x="936" y="431.04" width="83" height="14.56" fill="#60a8a0"/><rect x="936" y="433.56" width="83" height="12.04" fill="#f8a040"/><rect x="936" y="435.45" width="83" height="10.15" fill="#3060c0"/><rect x="936" y="436.97" width="83" height="8.63" fill="#f0f0f0"/><rect x="936" y="437.73" width="83" height="7.87" fill="#6cb866"/><rect x="936" y="444.04" width="83" height="1.56" fill="#7080f0"/><rect x="936" y="444.92" width="83" height="0.68" fill="#306a60"/></g>
<g><rect x="1105" y="88.94" width="83" height="356.66" fill="#40c0e0"/><rect x="1105" y="89.83" width="83" height="355.77" fill="#d0a070"/><rect x="1105" y="90.84" width="83" height="354.76" fill="#6060d0"/><rect x="1105" y="91.85" width="83" height="353.75" fill="#203050"/><rect x="1105" y="93.11" width="83" height="352.49" fill="#ffffff"/><rect x="1105" y="93.99" width="83" height="351.61" fill="#d0d8f8"/><rect x="1105" y="95.64" width="83" height="349.96" fill="#b0f0f8"/><rect x="1105" y="96.52" width="83" height="349.08" fill="#e0b090"/><rect x="1105" y="97.40" width="83" height="348.20" fill="#40a0a0"/><rect x="1105" y="98.16" width="83" height="347.44" fill="#fdc0a0"/><rect x="1105" y="99.93" width="83" height="345.67" fill="#b0b0fa"/><rect x="1105" y="104.98" width="83" height="340.62" fill="#60a8a0"/><rect x="1105" y="107.00" width="83" height="338.60" fill="#a0a070"/><rect x="1105" y="108.77" width="83" height="336.83" fill="#f09080"/><rect x="1105" y="109.78" width="83" height="335.82" fill="#4060e0"/><rect x="1105" y="111.04" width="83" height="334.56" fill="#2a7358"/><rect x="1105" y="116.72" width="83" height="328.88" fill="#a0d0f0"/><rect x="1105" y="117.98" width="83" height="327.62" fill="#6cb866"/><rect x="1105" y="123.04" width="83" height="322.56" fill="#8080e0"/><rect x="1105" y="123.92" width="83" height="321.68" fill="#d0a060"/><rect x="1105" y="124.93" width="83" height="320.67" fill="#1a5a6a"/><rect x="1105" y="125.94" width="83" height="319.66" fill="#f0f0f0"/><rect x="1105" y="126.82" width="83" height="318.78" fill="#fcf0d8"/><rect x="1105" y="127.71" width="83" height="317.89" fill="#d0e8c0"/><rect x="1105" y="128.72" width="83" height="316.88" fill="#605020"/><rect x="1105" y="129.73" width="83" height="315.87" fill="#f0f0f0"/><rect x="1105" y="130.61" width="83" height="314.99" fill="#6090a0"/><rect x="1105" y="131.49" width="83" height="314.11" fill="#20b090"/><rect x="1105" y="133.14" width="83" height="312.46" fill="#2090f0"/><rect x="1105" y="134.40" width="83" height="311.20" fill="#f0f0f0"/><rect x="1105" y="136.29" width="83" height="309.31" fill="#80a060"/><rect x="1105" y="137.30" width="83" height="308.30" fill="#b0f0f8"/><rect x="1105" y="138.57" width="83" height="307.03" fill="#f0f0f0"/><rect x="1105" y="139.83" width="83" height="305.77" fill="#f8e0e8"/><rect x="1105" y="140.00" width="83" height="305.60" fill="#c0c0a0"/><rect x="1105" y="141.01" width="83" height="304.59" fill="#a0a0a0"/><rect x="1105" y="141.89" width="83" height="303.71" fill="#f0c0d0"/><rect x="1105" y="142.78" width="83" height="302.82" fill="#b0b0f8"/><rect x="1105" y="145.05" width="83" height="300.55" fill="#f0f0f0"/><rect x="1105" y="145.68" width="83" height="299.92" fill="#f8a040"/><rect x="1105" y="147.83" width="83" height="297.77" fill="#3050d0"/><rect x="1105" y="148.84" width="83" height="296.76" fill="#2a6050"/><rect x="1105" y="149.85" width="83" height="295.75" fill="#30a0a0"/><rect x="1105" y="150.73" width="83" height="294.87" fill="#f09080"/><rect x="1105" y="151.62" width="83" height="293.98" fill="#c0e8d8"/><rect x="1105" y="152.63" width="83" height="292.97" fill="#e0c060"/><rect x="1105" y="153.64" width="83" height="291.96" fill="#f0f0f0"/><rect x="1105" y="154.52" width="83" height="291.08" fill="#fcf0d8"/><rect x="1105" y="155.40" width="83" height="290.20" fill="#a0d0d0"/><rect x="1105" y="156.67" width="83" height="288.93" fill="#f0f0f0"/><rect x="1105" y="157.42" width="83" height="288.18" fill="#fdc0a8"/><rect x="1105" y="159.95" width="83" height="285.65" fill="#a0a0f0"/><rect x="1105" y="160.83" width="83" height="284.77" fill="#fcd0a0"/><rect x="1105" y="161.72" width="83" height="283.88" fill="#f8a848"/><rect x="1105" y="164.62" width="83" height="280.98" fill="#1090b0"/><rect x="1105" y="169.04" width="83" height="276.56" fill="#3060c0"/><rect x="1105" y="170.93" width="83" height="274.67" fill="#ff8000"/><rect x="1105" y="188.23" width="83" height="257.37" fill="#a0c0a0"/><rect x="1105" y="189.49" width="83" height="256.11" fill="#00a8cc"/><rect x="1105" y="205.83" width="83" height="239.77" fill="#fca060"/><rect x="1105" y="207.85" width="83" height="237.75" fill="#fcf0d8"/><rect x="1105" y="209.11" width="83" height="236.49" fill="#d0f0e0"/><rect x="1105" y="209.99" width="83" height="235.61" fill="#ffffff"/><rect x="1105" y="211.26" width="83" height="234.34" fill="#4098c8"/><rect x="1105" y="212.90" width="83" height="232.70" fill="#f0f0f0"/><rect x="1105" y="213.78" width="83" height="231.82" fill="#fdc0a8"/><rect x="1105" y="218.83" width="83" height="226.77" fill="#e0c0e0"/><rect x="1105" y="219.72" width="83" height="225.88" fill="#3080c0"/><rect x="1105" y="220.73" width="83" height="224.87" fill="#f88030"/><rect x="1105" y="222.62" width="83" height="222.98" fill="#f0f0f0"/><rect x="1105" y="223.25" width="83" height="222.35" fill="#8070e0"/><rect x="1105" y="224.26" width="83" height="221.34" fill="#a0e8e0"/><rect x="1105" y="225.53" width="83" height="220.07" fill="#ffffff"/><rect x="1105" y="226.41" width="83" height="219.19" fill="#e0b090"/><rect x="1105" y="227.29" width="83" height="218.31" fill="#30a0a0"/><rect x="1105" y="228.30" width="83" height="217.30" fill="#605020"/><rect x="1105" y="229.31" width="83" height="216.29" fill="#40a070"/><rect x="1105" y="230.58" width="83" height="215.02" fill="#30a0a0"/><rect x="1105" y="231.46" width="83" height="214.14" fill="#fe9a6c"/><rect x="1105" y="249.77" width="83" height="195.83" fill="#7090f0"/><rect x="1105" y="250.78" width="83" height="194.82" fill="#ffffff"/><rect x="1105" y="251.66" width="83" height="193.94" fill="#e0e0f8"/><rect x="1105" y="252.92" width="83" height="192.68" fill="#f0f0f0"/><rect x="1105" y="253.81" width="83" height="191.79" fill="#c0c8a0"/><rect x="1105" y="254.82" width="83" height="190.78" fill="#b0f0f8"/><rect x="1105" y="255.83" width="83" height="189.77" fill="#40c0e0"/><rect x="1105" y="256.00" width="83" height="189.60" fill="#f09070"/><rect x="1105" y="257.01" width="83" height="188.59" fill="#4070e0"/><rect x="1105" y="258.78" width="83" height="186.82" fill="#c0e8d8"/><rect x="1105" y="259.79" width="83" height="185.81" fill="#30a080"/><rect x="1105" y="260.80" width="83" height="184.80" fill="#f0f0f0"/><rect x="1105" y="261.68" width="83" height="183.92" fill="#9080d0"/><rect x="1105" y="262.94" width="83" height="182.66" fill="#40a090"/><rect x="1105" y="263.83" width="83" height="181.77" fill="#e0c060"/><rect x="1105" y="264.59" width="83" height="181.01" fill="#d0e0d0"/><rect x="1105" y="266.10" width="83" height="179.50" fill="#fcc090"/><rect x="1105" y="267.62" width="83" height="177.98" fill="#e0e0f8"/><rect x="1105" y="268.63" width="83" height="176.97" fill="#b8b0fa"/><rect x="1105" y="270.90" width="83" height="174.70" fill="#208090"/><rect x="1105" y="272.16" width="83" height="173.44" fill="#4060e0"/><rect x="1105" y="273.05" width="83" height="172.55" fill="#40a080"/><rect x="1105" y="274.69" width="83" height="170.91" fill="#fe9a6c"/><rect x="1105" y="278.47" width="83" height="167.13" fill="#a0c8f8"/><rect x="1105" y="279.36" width="83" height="166.24" fill="#b0c8f8"/><rect x="1105" y="280.62" width="83" height="164.98" fill="#c0e8d8"/><rect x="1105" y="281.88" width="83" height="163.72" fill="#d0e0d0"/><rect x="1105" y="282.77" width="83" height="162.83" fill="#3090c0"/><rect x="1105" y="283.78" width="83" height="161.82" fill="#f0f0f0"/><rect x="1105" y="284.79" width="83" height="160.81" fill="#d0b8e8"/><rect x="1105" y="286.93" width="83" height="158.67" fill="#f0b080"/><rect x="1105" y="287.82" width="83" height="157.78" fill="#2070d0"/><rect x="1105" y="288.83" width="83" height="156.77" fill="#2080e0"/><rect x="1105" y="289.84" width="83" height="155.76" fill="#f07040"/><rect x="1105" y="290.72" width="83" height="154.88" fill="#a0c8e8"/><rect x="1105" y="296.15" width="83" height="149.45" fill="#60b070"/><rect x="1105" y="297.04" width="83" height="148.56" fill="#8090e0"/><rect x="1105" y="297.92" width="83" height="147.68" fill="#ffffff"/><rect x="1105" y="298.93" width="83" height="146.67" fill="#fcf0d8"/><rect x="1105" y="299.94" width="83" height="145.66" fill="#fcf0c0"/><rect x="1105" y="300.82" width="83" height="144.78" fill="#f0c0d0"/><rect x="1105" y="301.71" width="83" height="143.89" fill="#f0a080"/><rect x="1105" y="302.72" width="83" height="142.88" fill="#f0f0f0"/><rect x="1105" y="303.73" width="83" height="141.87" fill="#4070e0"/><rect x="1105" y="305.24" width="83" height="140.36" fill="#2a7050"/><rect x="1105" y="307.52" width="83" height="138.08" fill="#c08030"/><rect x="1105" y="308.40" width="83" height="137.20" fill="#f0f0f0"/><rect x="1105" y="309.28" width="83" height="136.32" fill="#30b0d0"/><rect x="1105" y="310.55" width="83" height="135.05" fill="#208080"/><rect x="1105" y="311.81" width="83" height="133.79" fill="#ffffff"/><rect x="1105" y="312.82" width="83" height="132.78" fill="#f0f0f0"/><rect x="1105" y="313.83" width="83" height="131.77" fill="#f0a080"/><rect x="1105" y="314.00" width="83" height="131.60" fill="#e0a070"/><rect x="1105" y="315.26" width="83" height="130.34" fill="#4060d0"/><rect x="1105" y="316.78" width="83" height="128.82" fill="#30a080"/><rect x="1105" y="317.79" width="83" height="127.81" fill="#b0e0d0"/><rect x="1105" y="318.80" width="83" height="126.80" fill="#2090f0"/><rect x="1105" y="320.06" width="83" height="125.54" fill="#f0f0f0"/><rect x="1105" y="320.94" width="83" height="124.66" fill="#f4f4f8"/><rect x="1105" y="322.21" width="83" height="123.39" fill="#90a0e0"/><rect x="1105" y="324.10" width="83" height="121.50" fill="#f0f0f0"/><rect x="1105" y="325.11" width="83" height="120.49" fill="#f8a040"/><rect x="1105" y="326.63" width="83" height="118.97" fill="#3060c0"/><rect x="1105" y="327.64" width="83" height="117.96" fill="#d08020"/><rect x="1105" y="328.90" width="83" height="116.70" fill="#f0f0f0"/><rect x="1105" y="329.78" width="83" height="115.82" fill="#e09090"/><rect x="1105" y="331.05" width="83" height="114.55" fill="#f0f0f0"/><rect x="1105" y="331.93" width="83" height="113.67" fill="#e0c060"/><rect x="1105" y="332.69" width="83" height="112.91" fill="#305040"/><rect x="1105" y="333.57" width="83" height="112.03" fill="#f0f0f0"/><rect x="1105" y="334.45" width="83" height="111.15" fill="#b0f4fc"/><rect x="1105" y="337.36" width="83" height="108.24" fill="#c0d0f8"/><rect x="1105" y="338.24" width="83" height="107.36" fill="#f0f0f0"/><rect x="1105" y="339.25" width="83" height="106.35" fill="#5080a0"/><rect x="1105" y="340.52" width="83" height="105.08" fill="#90a080"/><rect x="1105" y="342.03" width="83" height="103.57" fill="#7060e0"/><rect x="1105" y="343.04" width="83" height="102.56" fill="#a070d0"/><rect x="1105" y="344.05" width="83" height="101.55" fill="#207080"/><rect x="1105" y="344.93" width="83" height="100.67" fill="#f0f0f0"/><rect x="1105" y="345.82" width="83" height="99.78" fill="#d090a0"/><rect x="1105" y="347.08" width="83" height="98.52" fill="#4090c0"/><rect x="1105" y="348.09" width="83" height="97.51" fill="#60c0a0"/><rect x="1105" y="349.61" width="83" height="95.99" fill="#c0e8d8"/><rect x="1105" y="350.62" width="83" height="94.98" fill="#f0f0f0"/><rect x="1105" y="351.63" width="83" height="93.97" fill="#e0d8fa"/><rect x="1105" y="352.89" width="83" height="92.71" fill="#f0f0f0"/><rect x="1105" y="353.77" width="83" height="91.83" fill="#3090b0"/><rect x="1105" y="354.66" width="83" height="90.94" fill="#80c0f0"/><rect x="1105" y="355.67" width="83" height="89.93" fill="#f0f0f0"/><rect x="1105" y="356.68" width="83" height="88.92" fill="#30a0a0"/><rect x="1105" y="357.56" width="83" height="88.04" fill="#d0a070"/><rect x="1105" y="358.44" width="83" height="87.16" fill="#f08040"/><rect x="1105" y="359.45" width="83" height="86.15" fill="#3080b0"/><rect x="1105" y="360.46" width="83" height="85.14" fill="#3090e0"/><rect x="1105" y="361.35" width="83" height="84.25" fill="#f0f0f0"/><rect x="1105" y="362.23" width="83" height="83.37" fill="#f0d060"/><rect x="1105" y="363.87" width="83" height="81.73" fill="#1a5a6a"/><rect x="1105" y="364.76" width="83" height="80.84" fill="#f0f0f0"/><rect x="1105" y="365.77" width="83" height="79.83" fill="#fde0c8"/><rect x="1105" y="367.03" width="83" height="78.57" fill="#fcb080"/><rect x="1105" y="368.29" width="83" height="77.31" fill="#f09080"/><rect x="1105" y="369.30" width="83" height="76.30" fill="#6060f8"/><rect x="1105" y="372.00" width="83" height="73.60" fill="#2a7358"/><rect x="1105" y="391.95" width="83" height="53.65" fill="#c0e8d8"/><rect x="1105" y="393.21" width="83" height="52.39" fill="#10b0c8"/><rect x="1105" y="394.73" width="83" height="50.87" fill="#8080e0"/><rect x="1105" y="395.74" width="83" height="49.86" fill="#f0b080"/><rect x="1105" y="396.62" width="83" height="48.98" fill="#f8e0f0"/><rect x="1105" y="397.88" width="83" height="47.72" fill="#c8c8fa"/><rect x="1105" y="402.30" width="83" height="43.30" fill="#d0e0b0"/><rect x="1105" y="403.31" width="83" height="42.29" fill="#80c0f0"/><rect x="1105" y="404.58" width="83" height="41.02" fill="#b0f0f8"/><rect x="1105" y="405.46" width="83" height="40.14" fill="#d0a070"/><rect x="1105" y="406.34" width="83" height="39.26" fill="#6090a0"/><rect x="1105" y="407.35" width="83" height="38.25" fill="#f08030"/><rect x="1105" y="408.87" width="83" height="36.73" fill="#f0f0f0"/><rect x="1105" y="409.63" width="83" height="35.97" fill="#80c8a0"/><rect x="1105" y="410.51" width="83" height="35.09" fill="#4070e0"/><rect x="1105" y="411.77" width="83" height="33.83" fill="#f0f0f0"/><rect x="1105" y="412.66" width="83" height="32.94" fill="#405030"/><rect x="1105" y="413.67" width="83" height="31.93" fill="#8080e0"/><rect x="1105" y="414.68" width="83" height="30.92" fill="#b0e0d0"/><rect x="1105" y="426.87" width="83" height="18.73" fill="#f0c8a0"/><rect x="1105" y="427.81" width="83" height="17.79" fill="#80d0f0"/><rect x="1105" y="429.04" width="83" height="16.56" fill="#a0b0f8"/><rect x="1105" y="429.99" width="83" height="15.61" fill="#60a8a0"/><rect x="1105" y="433.02" width="83" height="12.58" fill="#f8a040"/><rect x="1105" y="434.83" width="83" height="10.77" fill="#a07070"/><rect x="1105" y="435.77" width="83" height="9.83" fill="#906820"/><rect x="1105" y="437.00" width="83" height="8.60" fill="#e0c0a0"/><rect x="1105" y="437.95" width="83" height="7.65" fill="#6cb866"/><rect x="1105" y="443.88" width="83" height="1.72" fill="#7080f0"/><rect x="1105" y="444.96" width="83" height="0.64" fill="#306a60"/></g>
<rect x="59" y="445" width="1173.5" height="2" fill="#858585"/>
<rect x="145" y="446" width="1" height="4.2" fill="#444"/>
<rect x="308" y="446" width="1" height="4.2" fill="#444"/>
<rect x="472" y="446" width="1" height="4.2" fill="#444"/>
<rect x="640" y="446" width="1" height="4.2" fill="#444"/>
<rect x="809" y="446" width="1" height="4.2" fill="#444"/>
<rect x="978" y="446" width="1" height="4.2" fill="#444"/>
<text x="145.5" y="460.6" text-anchor="middle" class="ax">2023-01</text>
<text x="308.5" y="460.6" text-anchor="middle" class="ax">2023-02</text>
<text x="472.5" y="460.6" text-anchor="middle" class="ax">2023-03</text>
<text x="640.5" y="460.6" text-anchor="middle" class="ax">2023-04</text>
<text x="809.5" y="460.6" text-anchor="middle" class="ax">2023-05</text>
<text x="978.5" y="460.6" text-anchor="middle" class="ax">2023-06</text>
<text x="56.3" y="69.80" text-anchor="end" class="ax">$1.5B</text>
<text x="56.3" y="196.30" text-anchor="end" class="ax">$1.0B</text>
<text x="56.3" y="322.80" text-anchor="end" class="ax">$500M</text>
<text x="56.3" y="449.30" text-anchor="end" class="ax">$0.0</text>
<text x="698" y="23.8" text-anchor="middle" class="title">Monthly Brand House Share of Retail Sales</text>
<text x="1245.5" y="48.7" class="lt">Brand House</text>
<rect x="1245.8" y="53.90" width="8.2" height="8" fill="#00a8cc"/>
<rect x="1245.8" y="64.66" width="8.2" height="8" fill="#ff8c60"/>
<rect x="1245.8" y="75.42" width="8.2" height="8" fill="#7070f8"/>
<rect x="1245.8" y="86.18" width="8.2" height="8" fill="#78c8a8"/>
<rect x="1245.8" y="96.94" width="8.2" height="8" fill="#f0c860"/>
<rect x="1245.8" y="107.70" width="8.2" height="8" fill="#0b4c5f"/>
<rect x="1245.8" y="118.46" width="8.2" height="8" fill="#b0f0fc"/>
<rect x="1245.8" y="129.22" width="8.2" height="8" fill="#fde0d8"/>
<rect x="1245.8" y="139.98" width="8.2" height="8" fill="#c8c8fc"/>
<rect x="1245.8" y="150.74" width="8.2" height="8" fill="#b0e0d0"/>
<rect x="1245.8" y="161.50" width="8.2" height="8" fill="#fdb878"/>
<rect x="1245.8" y="172.26" width="8.2" height="8" fill="#4a70a0"/>
<rect x="1245.8" y="183.02" width="8.2" height="8" fill="#40d8f8"/>
<rect x="1245.8" y="193.78" width="8.2" height="8" fill="#fdc0b0"/>
<rect x="1245.8" y="204.54" width="8.2" height="8" fill="#b0b0f8"/>
<rect x="1245.8" y="215.30" width="8.2" height="8" fill="#62a8a0"/>
<rect x="1245.8" y="226.06" width="8.2" height="8" fill="#f8a040"/>
<rect x="1245.8" y="236.82" width="8.2" height="8" fill="#6a9ac8"/>
<rect x="1245.8" y="247.58" width="8.2" height="8" fill="#1090b0"/>
<rect x="1245.8" y="258.34" width="8.2" height="8" fill="#f07878"/>
<rect x="1245.8" y="269.10" width="8.2" height="8" fill="#6060f8"/>
<rect x="1245.8" y="279.86" width="8.2" height="8" fill="#2a6e58"/>
<rect x="1245.8" y="290.62" width="8.2" height="8" fill="#ff8000"/>
<rect x="1245.8" y="301.38" width="8.2" height="8" fill="#a0c8e8"/>
<rect x="1245.8" y="312.14" width="8.2" height="8" fill="#6cb866"/>
<rect x="1245.8" y="322.90" width="8.2" height="8" fill="#00a8cc"/>
<rect x="1245.8" y="333.66" width="8.2" height="8" fill="#ff8c60"/>
<rect x="1245.8" y="344.42" width="8.2" height="8" fill="#7070f8"/>
<rect x="1245.8" y="355.18" width="8.2" height="8" fill="#78c8a8"/>
<rect x="1245.8" y="365.94" width="8.2" height="8" fill="#f0c860"/>
<rect x="1245.8" y="376.70" width="8.2" height="8" fill="#0b4c5f"/>
<rect x="1245.8" y="387.46" width="8.2" height="8" fill="#b0f0fc"/>
<rect x="1245.8" y="398.22" width="8.2" height="8" fill="#fde0d8"/>
<rect x="1245.8" y="408.98" width="8.2" height="8" fill="#c8c8fc"/>
<rect x="1245.8" y="419.74" width="8.2" height="8" fill="#b0e0d0"/>
<rect x="1245.8" y="430.50" width="8.2" height="8" fill="#fdb878"/>
<rect x="1245.8" y="441.26" width="8.2" height="8" fill="#4a70a0"/>
<rect x="1245.8" y="452.02" width="8.2" height="8" fill="#40d8f8"/>
<rect x="1245.8" y="462.78" width="8.2" height="8" fill="#fdc0b0"/>
<g filter="url(#bl)" class="lg"><text x="1259.5" y="62.10" textLength="48.5" lengthAdjust="spacingAndGlyphs">Aster Beverage Group</text><text x="1259.5" y="72.86" textLength="16.5" lengthAdjust="spacingAndGlyphs">Colts</text><text x="1259.5" y="83.62" textLength="48.5" lengthAdjust="spacingAndGlyphs">Norvel Brands Co</text><text x="1259.5" y="94.38" textLength="61.5" lengthAdjust="spacingAndGlyphs">Halden Spirits Holdings</text><text x="1259.5" y="105.14" textLength="24.5" lengthAdjust="spacingAndGlyphs">Jun Tara</text><text x="1259.5" y="115.90" textLength="48.5" lengthAdjust="spacingAndGlyphs">Mira Distillers</text><text x="1259.5" y="126.66" textLength="33.5" lengthAdjust="spacingAndGlyphs">Oak Harbor Co</text><text x="1259.5" y="137.42" textLength="58.5" lengthAdjust="spacingAndGlyphs">Pellam Wine & Spirits</text><text x="1259.5" y="148.18" textLength="19.5" lengthAdjust="spacingAndGlyphs">Rivoli</text><text x="1259.5" y="158.94" textLength="33.5" lengthAdjust="spacingAndGlyphs">Saltmarsh Ltd</text><text x="1259.5" y="169.70" textLength="56.5" lengthAdjust="spacingAndGlyphs">Tessaro Family Estates</text><text x="1259.5" y="180.46" textLength="29.5" lengthAdjust="spacingAndGlyphs">Umbrel Brands</text><text x="1259.5" y="191.22" textLength="73.5" lengthAdjust="spacingAndGlyphs">Vantage Craft Beverage Partners</text><text x="1259.5" y="201.98" textLength="29.5" lengthAdjust="spacingAndGlyphs">Westbury Co</text><text x="1259.5" y="212.74" textLength="15.5" lengthAdjust="spacingAndGlyphs">Yarrow</text><text x="1259.5" y="223.50" textLength="24.5" lengthAdjust="spacingAndGlyphs">Zelcor</text><text x="1259.5" y="234.26" textLength="63.5" lengthAdjust="spacingAndGlyphs">Ambrose Hall Distilling Co</text><text x="1259.5" y="245.02" textLength="45.5" lengthAdjust="spacingAndGlyphs">Bellweather Group</text><text x="1259.5" y="255.78" textLength="61.5" lengthAdjust="spacingAndGlyphs">Caldera Beverage Company</text><text x="1259.5" y="266.54" textLength="43.5" lengthAdjust="spacingAndGlyphs">Dunmore Holdings</text><text x="1259.5" y="277.30" textLength="56.5" lengthAdjust="spacingAndGlyphs">Everly Spirits & Wine</text><text x="1259.5" y="288.06" textLength="100.5" lengthAdjust="spacingAndGlyphs">Fairhaven Distilling and Brewing Co</text><text x="1259.5" y="298.82" textLength="96.5" lengthAdjust="spacingAndGlyphs">Glenmoor Beverage Holdings Inc</text><text x="1259.5" y="309.58" textLength="58.5" lengthAdjust="spacingAndGlyphs">Hartwell Cellars Group</text><text x="1259.5" y="320.34" textLength="4.5" lengthAdjust="spacingAndGlyphs">Ivo</text><text x="1259.5" y="331.10" textLength="33.5" lengthAdjust="spacingAndGlyphs">Juniper Lane</text><text x="1259.5" y="341.86" textLength="56.5" lengthAdjust="spacingAndGlyphs">Kestrel Imports Group</text><text x="1259.5" y="352.62" textLength="12.5" lengthAdjust="spacingAndGlyphs">Lumen</text><text x="1259.5" y="363.38" textLength="96.5" lengthAdjust="spacingAndGlyphs">Marlowe Spirits International Holdings</text><text x="1259.5" y="374.14" textLength="38.5" lengthAdjust="spacingAndGlyphs">Northgate Brands</text><text x="1259.5" y="384.90" textLength="61.5" lengthAdjust="spacingAndGlyphs">Orchard Hill Spirits Co</text><text x="1259.5" y="395.66" textLength="46.5" lengthAdjust="spacingAndGlyphs">Pinecrest Brands</text><text x="1259.5" y="406.42" textLength="59.5" lengthAdjust="spacingAndGlyphs">Quarry Road Distillers</text><text x="1259.5" y="417.18" textLength="34.5" lengthAdjust="spacingAndGlyphs">Redfern Group</text><text x="1259.5" y="427.94" textLength="61.5" lengthAdjust="spacingAndGlyphs">Stillwater Craft Co</text><text x="1259.5" y="438.70" textLength="71.5" lengthAdjust="spacingAndGlyphs">Thornbury Wine Estates</text><text x="1259.5" y="449.46" textLength="22.5" lengthAdjust="spacingAndGlyphs">Ulmer Co</text><text x="1259.5" y="460.22" textLength="56.5" lengthAdjust="spacingAndGlyphs">Verity Beverage Group</text><text x="1259.5" y="470.98" textLength="15.5" lengthAdjust="spacingAndGlyphs">Wexford</text></g>
</svg>

</body></html>
